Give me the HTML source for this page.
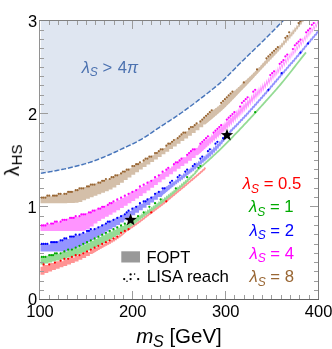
<!DOCTYPE html>
<html><head><meta charset="utf-8"><title>plot</title>
<style>html,body{margin:0;padding:0;background:#fff;}body{width:332px;height:349px;overflow:hidden;position:relative;font-family:"Liberation Sans",sans-serif;}</style>
</head><body>
<svg width="332" height="349" viewBox="0 0 332 349" style="position:absolute;left:0;top:0">
<defs><clipPath id="cp"><rect x="40.5" y="21" width="277.5" height="278"/></clipPath></defs>
<rect x="0" y="0" width="332" height="349" fill="#fff"/>
<g clip-path="url(#cp)">
<path d="M40.80,15.50 L40.80,173.31 L41.80,173.15 L42.80,172.98 L43.80,172.82 L44.80,172.65 L45.80,172.48 L46.80,172.31 L47.80,172.14 L48.80,171.97 L49.80,171.79 L50.80,171.61 L51.80,171.44 L52.80,171.26 L53.80,171.08 L54.80,170.90 L55.80,170.71 L56.80,170.53 L57.80,170.33 L58.80,170.14 L59.80,169.94 L60.80,169.74 L61.80,169.53 L62.80,169.32 L63.80,169.11 L64.80,168.89 L65.80,168.67 L66.80,168.45 L67.80,168.22 L68.80,167.99 L69.80,167.76 L70.80,167.52 L71.80,167.29 L72.80,167.04 L73.80,166.80 L74.80,166.55 L75.80,166.30 L76.80,166.05 L77.80,165.79 L78.80,165.53 L79.80,165.27 L80.80,165.00 L81.80,164.73 L82.80,164.45 L83.80,164.17 L84.80,163.88 L85.80,163.59 L86.80,163.30 L87.80,162.99 L88.80,162.68 L89.80,162.36 L90.80,162.04 L91.80,161.70 L92.80,161.36 L93.80,161.00 L94.80,160.64 L95.80,160.27 L96.80,159.89 L97.80,159.50 L98.80,159.11 L99.80,158.72 L100.80,158.32 L101.80,157.91 L102.80,157.51 L103.80,157.10 L104.80,156.68 L105.80,156.27 L106.80,155.84 L107.80,155.41 L108.80,154.97 L109.80,154.53 L110.80,154.08 L111.80,153.63 L112.80,153.17 L113.80,152.71 L114.80,152.24 L115.80,151.77 L116.80,151.31 L117.80,150.84 L118.80,150.36 L119.80,149.89 L120.80,149.42 L121.80,148.96 L122.80,148.49 L123.80,148.03 L124.80,147.57 L125.80,147.10 L126.80,146.64 L127.80,146.17 L128.80,145.70 L129.80,145.23 L130.80,144.75 L131.80,144.27 L132.80,143.78 L133.80,143.29 L134.80,142.79 L135.80,142.28 L136.80,141.77 L137.80,141.25 L138.80,140.71 L139.80,140.17 L140.80,139.61 L141.80,139.04 L142.80,138.46 L143.80,137.85 L144.80,137.23 L145.80,136.60 L146.80,135.95 L147.80,135.29 L148.80,134.62 L149.80,133.95 L150.80,133.27 L151.80,132.58 L152.80,131.90 L153.80,131.21 L154.80,130.52 L155.80,129.83 L156.80,129.15 L157.80,128.47 L158.80,127.80 L159.80,127.13 L160.80,126.47 L161.80,125.82 L162.80,125.17 L163.80,124.52 L164.80,123.88 L165.80,123.23 L166.80,122.58 L167.80,121.94 L168.80,121.29 L169.80,120.64 L170.80,119.99 L171.80,119.34 L172.80,118.68 L173.80,118.02 L174.80,117.36 L175.80,116.69 L176.80,116.01 L177.80,115.33 L178.80,114.64 L179.80,113.94 L180.80,113.24 L181.80,112.53 L182.80,111.82 L183.80,111.11 L184.80,110.39 L185.80,109.66 L186.80,108.93 L187.80,108.20 L188.80,107.47 L189.80,106.73 L190.80,105.98 L191.80,105.24 L192.80,104.49 L193.80,103.73 L194.80,102.98 L195.80,102.22 L196.80,101.45 L197.80,100.69 L198.80,99.92 L199.80,99.15 L200.80,98.38 L201.80,97.61 L202.80,96.85 L203.80,96.08 L204.80,95.31 L205.80,94.54 L206.80,93.76 L207.80,92.99 L208.80,92.21 L209.80,91.43 L210.80,90.64 L211.80,89.84 L212.80,89.05 L213.80,88.24 L214.80,87.43 L215.80,86.61 L216.80,85.78 L217.80,84.94 L218.80,84.10 L219.80,83.24 L220.80,82.37 L221.80,81.49 L222.80,80.60 L223.80,79.69 L224.80,78.76 L225.80,77.80 L226.80,76.83 L227.80,75.84 L228.80,74.84 L229.80,73.83 L230.80,72.81 L231.80,71.78 L232.80,70.75 L233.80,69.71 L234.80,68.68 L235.80,67.65 L236.80,66.62 L237.80,65.60 L238.80,64.60 L239.80,63.60 L240.80,62.61 L241.80,61.63 L242.80,60.65 L243.80,59.67 L244.80,58.70 L245.80,57.72 L246.80,56.75 L247.80,55.79 L248.80,54.82 L249.80,53.85 L250.80,52.88 L251.80,51.92 L252.80,50.95 L253.80,49.98 L254.80,49.01 L255.80,48.05 L256.80,47.07 L257.80,46.10 L258.80,45.13 L259.80,44.15 L260.80,43.17 L261.80,42.18 L262.80,41.19 L263.80,40.20 L264.80,39.21 L265.80,38.21 L266.80,37.22 L267.80,36.22 L268.80,35.22 L269.80,34.21 L270.80,33.21 L271.80,32.20 L272.80,31.20 L273.80,30.19 L274.80,29.17 L275.80,28.16 L276.80,27.14 L277.80,26.13 L278.80,25.11 L279.80,24.09 L280.80,23.06 L281.80,22.04 L282.80,21.01 L283.80,19.98 L284.80,18.95 L285.80,17.92 L286.80,16.88 L287.80,15.84 L288.80,14.80 L289.80,13.76 L290.80,12.71 L291.80,11.67 L292.80,10.62 L293.80,9.56 L294.80,8.51 L295.80,7.46 L296.80,6.40 L297.80,5.34 L298.80,4.28 L299.80,3.21 L300.00,15.50 Z" fill="rgb(223,230,241)"/>
<path d="M40.80,173.31 L41.80,173.15 L42.80,172.98 L43.80,172.82 L44.80,172.65 L45.80,172.48 L46.80,172.31 L47.80,172.14 L48.80,171.97 L49.80,171.79 L50.80,171.61 L51.80,171.44 L52.80,171.26 L53.80,171.08 L54.80,170.90 L55.80,170.71 L56.80,170.53 L57.80,170.33 L58.80,170.14 L59.80,169.94 L60.80,169.74 L61.80,169.53 L62.80,169.32 L63.80,169.11 L64.80,168.89 L65.80,168.67 L66.80,168.45 L67.80,168.22 L68.80,167.99 L69.80,167.76 L70.80,167.52 L71.80,167.29 L72.80,167.04 L73.80,166.80 L74.80,166.55 L75.80,166.30 L76.80,166.05 L77.80,165.79 L78.80,165.53 L79.80,165.27 L80.80,165.00 L81.80,164.73 L82.80,164.45 L83.80,164.17 L84.80,163.88 L85.80,163.59 L86.80,163.30 L87.80,162.99 L88.80,162.68 L89.80,162.36 L90.80,162.04 L91.80,161.70 L92.80,161.36 L93.80,161.00 L94.80,160.64 L95.80,160.27 L96.80,159.89 L97.80,159.50 L98.80,159.11 L99.80,158.72 L100.80,158.32 L101.80,157.91 L102.80,157.51 L103.80,157.10 L104.80,156.68 L105.80,156.27 L106.80,155.84 L107.80,155.41 L108.80,154.97 L109.80,154.53 L110.80,154.08 L111.80,153.63 L112.80,153.17 L113.80,152.71 L114.80,152.24 L115.80,151.77 L116.80,151.31 L117.80,150.84 L118.80,150.36 L119.80,149.89 L120.80,149.42 L121.80,148.96 L122.80,148.49 L123.80,148.03 L124.80,147.57 L125.80,147.10 L126.80,146.64 L127.80,146.17 L128.80,145.70 L129.80,145.23 L130.80,144.75 L131.80,144.27 L132.80,143.78 L133.80,143.29 L134.80,142.79 L135.80,142.28 L136.80,141.77 L137.80,141.25 L138.80,140.71 L139.80,140.17 L140.80,139.61 L141.80,139.04 L142.80,138.46 L143.80,137.85 L144.80,137.23 L145.80,136.60 L146.80,135.95 L147.80,135.29 L148.80,134.62 L149.80,133.95 L150.80,133.27 L151.80,132.58 L152.80,131.90 L153.80,131.21 L154.80,130.52 L155.80,129.83 L156.80,129.15 L157.80,128.47 L158.80,127.80 L159.80,127.13 L160.80,126.47 L161.80,125.82 L162.80,125.17 L163.80,124.52 L164.80,123.88 L165.80,123.23 L166.80,122.58 L167.80,121.94 L168.80,121.29 L169.80,120.64 L170.80,119.99 L171.80,119.34 L172.80,118.68 L173.80,118.02 L174.80,117.36 L175.80,116.69 L176.80,116.01 L177.80,115.33 L178.80,114.64 L179.80,113.94 L180.80,113.24 L181.80,112.53 L182.80,111.82 L183.80,111.11 L184.80,110.39 L185.80,109.66 L186.80,108.93 L187.80,108.20 L188.80,107.47 L189.80,106.73 L190.80,105.98 L191.80,105.24 L192.80,104.49 L193.80,103.73 L194.80,102.98 L195.80,102.22 L196.80,101.45 L197.80,100.69 L198.80,99.92 L199.80,99.15 L200.80,98.38 L201.80,97.61 L202.80,96.85 L203.80,96.08 L204.80,95.31 L205.80,94.54 L206.80,93.76 L207.80,92.99 L208.80,92.21 L209.80,91.43 L210.80,90.64 L211.80,89.84 L212.80,89.05 L213.80,88.24 L214.80,87.43 L215.80,86.61 L216.80,85.78 L217.80,84.94 L218.80,84.10 L219.80,83.24 L220.80,82.37 L221.80,81.49 L222.80,80.60 L223.80,79.69 L224.80,78.76 L225.80,77.80 L226.80,76.83 L227.80,75.84 L228.80,74.84 L229.80,73.83 L230.80,72.81 L231.80,71.78 L232.80,70.75 L233.80,69.71 L234.80,68.68 L235.80,67.65 L236.80,66.62 L237.80,65.60 L238.80,64.60 L239.80,63.60 L240.80,62.61 L241.80,61.63 L242.80,60.65 L243.80,59.67 L244.80,58.70 L245.80,57.72 L246.80,56.75 L247.80,55.79 L248.80,54.82 L249.80,53.85 L250.80,52.88 L251.80,51.92 L252.80,50.95 L253.80,49.98 L254.80,49.01 L255.80,48.05 L256.80,47.07 L257.80,46.10 L258.80,45.13 L259.80,44.15 L260.80,43.17 L261.80,42.18 L262.80,41.19 L263.80,40.20 L264.80,39.21 L265.80,38.21 L266.80,37.22 L267.80,36.22 L268.80,35.22 L269.80,34.21 L270.80,33.21 L271.80,32.20 L272.80,31.20 L273.80,30.19 L274.80,29.17 L275.80,28.16 L276.80,27.14 L277.80,26.13 L278.80,25.11 L279.80,24.09 L280.80,23.06 L281.80,22.04 L282.80,21.01 L283.80,19.98 L284.80,18.95 L285.80,17.92 L286.80,16.88 L287.80,15.84 L288.80,14.80 L289.80,13.76 L290.80,12.71 L291.80,11.67 L292.80,10.62 L293.80,9.56 L294.80,8.51 L295.80,7.46 L296.80,6.40 L297.80,5.34 L298.80,4.28 L299.80,3.21" fill="none" stroke="rgb(70,116,186)" stroke-width="1.45" stroke-dasharray="5 1.9"/>
<path d="M39.50,198.06 L42.64,198.06 L42.64,198.06 L44.53,198.06 L44.53,198.06 L46.42,198.06 L46.42,196.21 L48.31,196.21 L48.31,196.21 L50.20,196.21 L50.20,196.21 L52.09,196.21 L52.09,196.21 L53.98,196.21 L53.98,196.21 L55.87,196.21 L55.87,196.21 L57.76,196.21 L57.76,194.35 L59.65,194.35 L59.65,194.35 L61.53,194.35 L61.53,194.35 L63.42,194.35 L63.42,194.35 L65.31,194.35 L65.31,194.35 L67.20,194.35 L67.20,192.49 L69.09,192.49 L69.09,192.49 L70.98,192.49 L70.98,192.49 L72.87,192.49 L72.87,190.64 L74.76,190.64 L74.76,190.64 L76.65,190.64 L76.65,190.64 L78.54,190.64 L78.54,188.78 L80.42,188.78 L80.42,188.78 L82.31,188.78 L82.31,188.78 L84.20,188.78 L84.20,186.92 L86.09,186.92 L86.09,186.92 L87.98,186.92 L87.98,186.92 L89.87,186.92 L89.87,185.07 L91.76,185.07 L91.76,185.07 L93.65,185.07 L93.65,185.07 L95.54,185.07 L95.54,183.21 L97.43,183.21 L97.43,183.21 L99.31,183.21 L99.31,183.21 L101.20,183.21 L101.20,181.35 L103.09,181.35 L103.09,181.35 L104.98,181.35 L104.98,179.50 L106.87,179.50 L106.87,179.50 L108.76,179.50 L108.76,179.50 L110.65,179.50 L110.65,177.64 L112.54,177.64 L112.54,177.64 L114.43,177.64 L114.43,175.78 L116.32,175.78 L116.32,175.78 L118.20,175.78 L118.20,173.92 L120.09,173.92 L120.09,173.92 L121.98,173.92 L121.98,172.07 L123.87,172.07 L123.87,172.07 L125.76,172.07 L125.76,170.21 L127.65,170.21 L127.65,170.21 L129.54,170.21 L129.54,168.35 L131.43,168.35 L131.43,166.50 L133.32,166.50 L133.32,166.50 L135.21,166.50 L135.21,164.64 L137.09,164.64 L137.09,164.64 L138.98,164.64 L138.98,162.78 L140.87,162.78 L140.87,162.78 L142.76,162.78 L142.76,160.92 L144.65,160.92 L144.65,159.07 L146.54,159.07 L146.54,159.07 L148.43,159.07 L148.43,157.21 L150.32,157.21 L150.32,157.21 L152.21,157.21 L152.21,155.35 L154.10,155.35 L154.10,153.50 L155.98,153.50 L155.98,153.50 L157.87,153.50 L157.87,151.64 L159.76,151.64 L159.76,149.78 L161.65,149.78 L161.65,149.78 L163.54,149.78 L163.54,147.93 L165.43,147.93 L165.43,146.07 L167.32,146.07 L167.32,144.21 L169.21,144.21 L169.21,144.21 L171.10,144.21 L171.10,142.35 L172.99,142.35 L172.99,140.50 L174.87,140.50 L174.87,138.64 L176.76,138.64 L176.76,138.64 L178.65,138.64 L178.65,136.78 L180.54,136.78 L180.54,134.93 L182.43,134.93 L182.43,133.07 L184.32,133.07 L184.32,133.07 L186.21,133.07 L186.21,131.21 L188.10,131.21 L188.10,129.36 L189.99,129.36 L189.99,127.50 L191.88,127.50 L191.88,127.50 L193.76,127.50 L193.76,125.64 L195.65,125.64 L195.65,123.78 L197.54,123.78 L197.54,123.78 L199.43,123.78 L199.43,121.93 L201.32,121.93 L201.32,120.07 L203.21,120.07 L203.21,118.21 L205.10,118.21 L206.04,116.30 L206.99,115.51 L207.93,114.58 L208.88,113.91 L209.82,112.85 L210.77,112.32 L211.71,111.16 L212.65,110.80 L213.60,109.54 L214.54,109.35 L215.49,107.99 L216.43,107.94 L217.38,106.46 L218.32,106.51 L219.27,104.92 L220.21,104.93 L221.16,103.30 L222.10,103.27 L223.04,101.59 L223.99,101.51 L224.93,99.80 L225.88,99.69 L226.82,97.96 L227.77,97.83 L228.71,96.09 L229.66,95.96 L230.60,94.23 L231.54,94.10 L232.49,92.39 L233.43,92.27 L234.38,90.60 L235.32,90.48 L236.27,88.84 L237.21,88.69 L238.16,87.08 L239.10,86.91 L240.05,85.32 L240.99,85.13 L241.93,83.56 L242.88,83.34 L243.82,81.78 L244.77,81.54 L245.71,80.00 L246.66,79.75 L247.60,78.23 L248.55,77.96 L249.49,76.45 L250.43,76.15 L251.38,74.66 L252.32,74.39 L253.27,72.84 L254.21,72.61 L255.16,70.98 L256.10,70.79 L257.05,69.06 L257.99,68.90 L258.94,67.03 L259.88,66.91 L260.82,64.91 L261.77,64.87 L262.71,62.76 L263.66,62.83 L264.60,60.63 L265.55,60.85 L266.49,58.58 L267.44,58.95 L268.38,56.63 L269.32,57.11 L270.27,54.75 L271.21,55.31 L272.16,52.88 L273.10,53.49 L274.05,50.99 L274.99,51.65 L275.94,49.05 L276.88,49.74 L277.83,47.00 L278.77,47.73 L279.71,44.78 L280.66,45.60 L281.60,42.42 L282.55,43.41 L283.49,40.04 L284.44,41.25 L285.38,37.75 L286.33,39.16 L287.27,35.55 L288.21,37.11 L289.16,33.39 L290.10,35.04 L291.05,31.21 L291.99,32.88 L292.94,29.02 L293.88,30.65 L294.83,26.84 L295.77,28.40 L296.72,24.71 L297.66,26.16 L298.60,22.69 L299.55,23.98 L300.49,20.81 L301.44,21.76 L302.38,18.75 L303.33,19.46 L304.27,16.60 L305.22,17.12 L306.16,14.35 L307.10,14.72 L308.05,11.98 L308.99,12.23 L309.94,9.48 L310.88,9.66 L311.83,6.84 L312.77,7.00 L313.72,4.03 L314.66,4.22 L315.61,1.04 L316.55,1.34 L317.49,-2.15 L318.44,-1.67 L319.38,-5.54 L320.33,-4.81 L320.33,-1.04 L319.38,-1.82 L318.44,1.55 L317.49,1.09 L316.55,4.15 L315.61,3.92 L314.66,6.73 L313.72,6.66 L312.77,9.31 L311.83,9.33 L310.88,11.89 L309.94,11.94 L308.99,14.45 L308.05,14.48 L307.10,17.02 L306.16,16.96 L305.22,19.57 L304.27,19.39 L303.33,22.13 L302.38,21.79 L301.44,24.72 L300.49,24.17 L299.55,27.31 L298.60,26.47 L297.66,29.87 L296.72,28.80 L295.77,32.36 L294.83,31.12 L293.88,34.75 L292.94,33.39 L291.99,37.03 L291.05,35.62 L290.10,39.25 L289.16,37.85 L288.21,41.41 L287.27,40.10 L286.33,43.53 L285.38,42.34 L284.44,45.62 L283.49,44.60 L282.55,47.70 L281.60,46.87 L280.66,49.76 L279.71,49.12 L278.77,51.80 L277.83,51.29 L276.88,53.81 L275.94,53.39 L274.99,55.80 L274.05,55.45 L273.10,57.77 L272.16,57.48 L271.21,59.74 L270.27,59.51 L269.32,61.69 L268.38,61.54 L267.44,63.64 L266.49,63.58 L265.55,65.60 L264.60,65.65 L263.66,67.57 L262.71,67.74 L261.77,69.54 L260.82,69.84 L259.88,71.53 L258.94,71.94 L257.99,73.52 L257.05,74.02 L256.10,75.52 L255.16,76.09 L254.21,77.51 L253.27,78.15 L252.32,79.50 L251.38,80.21 L250.43,81.49 L249.49,82.24 L248.55,83.48 L247.60,84.21 L246.66,85.46 L245.71,86.16 L244.77,87.43 L243.82,88.11 L242.88,89.39 L241.93,90.05 L240.99,91.35 L240.05,91.99 L239.10,93.32 L238.16,93.95 L237.21,95.31 L236.27,95.92 L235.32,97.30 L234.38,97.88 L233.43,99.28 L232.49,99.84 L231.54,101.25 L230.60,101.79 L229.66,103.19 L228.71,103.71 L227.77,105.10 L226.82,105.59 L225.88,106.96 L224.93,107.43 L223.99,108.77 L223.04,109.20 L222.10,110.51 L221.16,110.91 L220.21,112.19 L219.27,112.56 L218.32,113.83 L217.38,114.17 L216.43,115.42 L215.49,115.85 L214.54,116.98 L213.60,117.53 L212.65,118.51 L211.71,119.19 L210.77,120.02 L209.82,120.83 L208.88,121.50 L207.93,122.44 L206.99,122.97 L206.04,124.03 L205.10,124.42 L203.21,124.42 L203.21,127.32 L201.32,127.32 L201.32,127.32 L199.43,127.32 L199.43,130.16 L197.54,130.16 L197.54,130.16 L195.65,130.16 L195.65,132.94 L193.76,132.94 L193.76,132.94 L191.88,132.94 L191.88,135.68 L189.99,135.68 L189.99,135.68 L188.10,135.68 L188.10,138.38 L186.21,138.38 L186.21,138.38 L184.32,138.38 L184.32,141.07 L182.43,141.07 L182.43,141.07 L180.54,141.07 L180.54,143.76 L178.65,143.76 L178.65,143.76 L176.76,143.76 L176.76,146.44 L174.87,146.44 L174.87,146.44 L172.99,146.44 L172.99,149.10 L171.10,149.10 L171.10,149.10 L169.21,149.10 L169.21,151.74 L167.32,151.74 L167.32,151.74 L165.43,151.74 L165.43,154.37 L163.54,154.37 L163.54,154.37 L161.65,154.37 L161.65,156.96 L159.76,156.96 L159.76,156.96 L157.87,156.96 L157.87,159.52 L155.98,159.52 L155.98,159.52 L154.10,159.52 L154.10,162.05 L152.21,162.05 L152.21,162.05 L150.32,162.05 L150.32,164.57 L148.43,164.57 L148.43,164.57 L146.54,164.57 L146.54,167.08 L144.65,167.08 L144.65,167.08 L142.76,167.08 L142.76,169.61 L140.87,169.61 L140.87,169.61 L138.98,169.61 L138.98,172.19 L137.09,172.19 L137.09,172.19 L135.21,172.19 L135.21,174.82 L133.32,174.82 L133.32,174.82 L131.43,174.82 L131.43,177.47 L129.54,177.47 L129.54,177.47 L127.65,177.47 L127.65,180.09 L125.76,180.09 L125.76,180.09 L123.87,180.09 L123.87,182.64 L121.98,182.64 L121.98,182.64 L120.09,182.64 L120.09,185.07 L118.20,185.07 L118.20,185.07 L116.32,185.07 L116.32,187.43 L114.43,187.43 L114.43,187.43 L112.54,187.43 L112.54,189.58 L110.65,189.58 L110.65,189.58 L108.76,189.58 L108.76,191.30 L106.87,191.30 L106.87,191.30 L104.98,191.30 L104.98,192.79 L103.09,192.79 L103.09,192.79 L101.20,192.79 L101.20,194.28 L99.31,194.28 L99.31,194.28 L97.43,194.28 L97.43,195.77 L95.54,195.77 L95.54,195.77 L93.65,195.77 L93.65,197.24 L91.76,197.24 L91.76,197.24 L89.87,197.24 L89.87,198.72 L87.98,198.72 L87.98,198.72 L86.09,198.72 L86.09,200.26 L84.20,200.26 L84.20,200.26 L82.31,200.26 L82.31,201.88 L80.42,201.88 L80.42,201.88 L78.54,201.88 L78.54,202.73 L76.65,202.73 L76.65,202.73 L74.76,202.73 L74.76,203.02 L72.87,203.02 L72.87,203.02 L70.98,203.02 L70.98,203.09 L69.09,203.09 L69.09,203.09 L67.20,203.09 L67.20,203.15 L65.31,203.15 L65.31,203.15 L63.42,203.15 L63.42,203.20 L61.53,203.20 L61.53,203.20 L59.65,203.20 L59.65,203.23 L57.76,203.23 L57.76,203.23 L55.87,203.23 L55.87,203.26 L53.98,203.26 L53.98,203.26 L52.09,203.26 L52.09,203.28 L50.20,203.28 L50.20,203.28 L48.31,203.28 L48.31,203.29 L46.42,203.29 L46.42,203.29 L44.53,203.29 L44.53,203.30 L42.64,203.30 L42.64,203.30 L39.50,203.30 Z" fill="rgb(212,191,169)"/>
<path d="M39.50,225.92 L42.64,225.92 L42.64,225.92 L44.53,225.92 L44.53,225.92 L46.42,225.92 L46.42,224.06 L48.31,224.06 L48.31,224.06 L50.20,224.06 L50.20,224.06 L52.09,224.06 L52.09,224.06 L53.98,224.06 L53.98,222.21 L55.87,222.21 L55.87,222.21 L57.76,222.21 L57.76,222.21 L59.65,222.21 L59.65,222.21 L61.53,222.21 L61.53,220.35 L63.42,220.35 L63.42,220.35 L65.31,220.35 L65.31,220.35 L67.20,220.35 L67.20,218.49 L69.09,218.49 L69.09,218.49 L70.98,218.49 L70.98,218.49 L72.87,218.49 L72.87,218.49 L74.76,218.49 L74.76,216.63 L76.65,216.63 L76.65,216.63 L78.54,216.63 L78.54,216.63 L80.42,216.63 L80.42,214.78 L82.31,214.78 L82.31,214.78 L84.20,214.78 L84.20,214.78 L86.09,214.78 L86.09,212.92 L87.98,212.92 L87.98,212.92 L89.87,212.92 L89.87,212.92 L91.76,212.92 L91.76,211.06 L93.65,211.06 L93.65,211.06 L95.54,211.06 L95.54,209.21 L97.43,209.21 L97.43,209.21 L99.31,209.21 L99.31,209.21 L101.20,209.21 L101.20,207.35 L103.09,207.35 L103.09,207.35 L104.98,207.35 L104.98,205.49 L106.87,205.49 L106.87,205.49 L108.76,205.49 L108.76,203.64 L110.65,203.64 L110.65,203.64 L112.54,203.64 L112.54,201.78 L114.43,201.78 L114.43,201.78 L116.32,201.78 L116.32,199.92 L118.20,199.92 L118.20,199.92 L120.09,199.92 L120.09,198.06 L121.98,198.06 L121.98,198.06 L123.87,198.06 L123.87,196.21 L125.76,196.21 L125.76,196.21 L127.65,196.21 L127.65,194.35 L129.54,194.35 L129.54,192.49 L131.43,192.49 L131.43,192.49 L133.32,192.49 L133.32,190.64 L135.21,190.64 L135.21,190.64 L137.09,190.64 L137.09,188.78 L138.98,188.78 L138.98,186.92 L140.87,186.92 L140.87,186.92 L142.76,186.92 L142.76,185.07 L144.65,185.07 L144.65,185.07 L146.54,185.07 L146.54,183.21 L148.43,183.21 L148.43,181.35 L150.32,181.35 L150.32,181.35 L152.21,181.35 L152.21,179.50 L154.10,179.50 L154.10,177.64 L155.98,177.64 L155.98,177.64 L157.87,177.64 L157.87,175.78 L159.76,175.78 L159.76,173.92 L161.65,173.92 L161.65,172.07 L163.54,172.07 L163.54,172.07 L165.43,172.07 L165.43,170.21 L167.32,170.21 L167.32,168.35 L169.21,168.35 L169.21,168.35 L171.10,168.35 L171.10,166.50 L172.99,166.50 L172.99,164.64 L174.87,164.64 L174.87,162.78 L176.76,162.78 L176.76,162.78 L178.65,162.78 L178.65,160.92 L180.54,160.92 L180.54,159.07 L182.43,159.07 L182.43,157.21 L184.32,157.21 L184.32,157.21 L186.21,157.21 L186.21,155.35 L188.10,155.35 L188.10,153.50 L189.99,153.50 L189.99,151.64 L191.88,151.64 L191.88,149.78 L193.76,149.78 L193.76,149.78 L195.65,149.78 L195.65,147.93 L197.54,147.93 L198.49,145.59 L199.43,144.91 L200.38,143.99 L201.32,143.72 L202.27,142.36 L203.21,142.52 L204.15,140.69 L205.10,141.32 L206.04,139.01 L206.99,140.10 L207.93,137.29 L208.88,138.88 L209.82,135.56 L210.77,137.66 L211.71,133.81 L212.65,136.00 L213.60,132.03 L214.54,134.26 L215.49,130.22 L216.43,132.52 L217.38,128.39 L218.32,130.82 L219.27,126.55 L220.21,129.12 L221.16,124.69 L222.10,127.40 L223.04,122.84 L223.99,125.68 L224.93,120.98 L225.88,123.94 L226.82,119.12 L227.77,122.19 L228.71,117.25 L229.66,120.43 L230.60,115.37 L231.54,118.65 L232.49,113.49 L233.43,116.86 L234.38,111.60 L235.32,115.05 L236.27,109.70 L237.21,113.24 L238.16,107.79 L239.10,111.41 L240.05,105.88 L240.99,109.58 L241.93,103.97 L242.88,107.73 L243.82,102.04 L244.77,105.87 L245.71,100.11 L246.66,104.00 L247.60,98.16 L248.55,102.11 L249.49,96.21 L250.43,100.20 L251.38,94.25 L252.32,98.28 L253.27,92.30 L254.21,96.36 L255.16,90.34 L256.10,94.43 L257.05,88.39 L257.99,92.49 L258.94,86.44 L259.88,90.55 L260.82,84.51 L261.77,88.62 L262.71,82.59 L263.66,86.68 L264.60,80.67 L265.55,84.73 L266.49,78.73 L267.44,82.75 L268.38,76.76 L269.32,80.75 L270.27,74.74 L271.21,78.71 L272.16,72.67 L273.10,76.64 L274.05,70.56 L274.99,74.55 L275.94,68.42 L276.88,72.44 L277.83,66.24 L278.77,70.31 L279.71,64.05 L280.66,68.17 L281.60,61.84 L282.55,66.01 L283.49,59.62 L284.44,63.84 L285.38,57.40 L286.33,61.64 L287.27,55.18 L288.21,59.37 L289.16,52.95 L290.10,57.09 L291.05,50.70 L291.99,54.80 L292.94,48.45 L293.88,52.51 L294.83,46.20 L295.77,50.22 L296.72,43.96 L297.66,47.94 L298.60,41.73 L299.55,45.67 L300.49,39.49 L301.44,43.40 L302.38,37.24 L303.33,41.13 L304.27,34.97 L305.22,38.84 L306.16,32.66 L307.10,36.54 L308.05,30.32 L308.99,34.24 L309.94,28.03 L310.88,31.98 L311.83,25.88 L312.77,29.80 L313.72,23.86 L314.66,27.65 L315.61,21.84 L316.55,25.49 L317.49,19.71 L318.44,23.30 L319.38,17.52 L320.33,21.11 L320.33,24.25 L319.38,20.80 L318.44,26.42 L317.49,22.99 L316.55,28.62 L315.61,25.16 L314.66,30.85 L313.72,27.26 L312.77,33.09 L311.83,29.37 L310.88,35.35 L309.94,31.57 L308.99,37.62 L308.05,33.86 L307.10,39.90 L306.16,36.17 L305.22,42.19 L304.27,38.48 L303.33,44.48 L302.38,40.75 L301.44,46.76 L300.49,43.01 L299.55,49.05 L298.60,45.27 L297.66,51.34 L296.72,47.53 L295.77,53.64 L294.83,49.80 L293.88,55.96 L292.94,52.08 L291.99,58.28 L291.05,54.36 L290.10,60.60 L289.16,56.63 L288.21,62.91 L287.27,58.89 L286.33,65.21 L285.38,61.14 L284.44,67.49 L283.49,63.44 L282.55,69.75 L281.60,65.75 L280.66,71.99 L279.71,68.04 L278.77,74.22 L277.83,70.33 L276.88,76.43 L275.94,72.59 L274.99,78.64 L274.05,74.84 L273.10,80.83 L272.16,77.07 L271.21,83.02 L270.27,79.26 L269.32,85.19 L268.38,81.43 L267.44,87.35 L266.49,83.57 L265.55,89.50 L264.60,85.69 L263.66,91.64 L262.71,87.80 L261.77,93.76 L260.82,89.90 L259.88,95.88 L258.94,92.01 L257.99,97.99 L257.05,94.13 L256.10,100.09 L255.16,96.25 L254.21,102.18 L253.27,98.37 L252.32,104.26 L251.38,100.48 L250.43,106.33 L249.49,102.58 L248.55,108.37 L247.60,104.68 L246.66,110.40 L245.71,106.76 L244.77,112.41 L243.82,108.82 L242.88,114.39 L241.93,110.87 L240.99,116.34 L240.05,112.90 L239.10,118.29 L238.16,114.92 L237.21,120.22 L236.27,116.94 L235.32,122.14 L234.38,118.94 L233.43,124.04 L232.49,120.92 L231.54,125.92 L230.60,122.89 L229.66,127.78 L228.71,124.85 L227.77,129.61 L226.82,126.78 L225.88,131.41 L224.93,128.68 L223.99,133.18 L223.04,130.56 L222.10,134.91 L221.16,132.42 L220.21,136.61 L219.27,134.25 L218.32,138.29 L217.38,136.06 L216.43,139.94 L215.49,137.85 L214.54,141.56 L213.60,139.55 L212.65,143.17 L211.71,141.19 L210.77,144.75 L209.82,142.86 L208.88,146.30 L207.93,144.95 L206.99,147.84 L206.04,146.99 L205.10,149.36 L204.15,149.00 L203.21,150.85 L202.27,150.97 L201.32,152.33 L200.38,152.89 L199.43,153.78 L198.49,154.78 L197.54,155.20 L195.65,155.20 L195.65,157.98 L193.76,157.98 L193.76,157.98 L191.88,157.98 L191.88,160.70 L189.99,160.70 L189.99,160.70 L188.10,160.70 L188.10,163.38 L186.21,163.38 L186.21,163.38 L184.32,163.38 L184.32,166.06 L182.43,166.06 L182.43,166.06 L180.54,166.06 L180.54,168.77 L178.65,168.77 L178.65,168.77 L176.76,168.77 L176.76,171.46 L174.87,171.46 L174.87,171.46 L172.99,171.46 L172.99,174.13 L171.10,174.13 L171.10,174.13 L169.21,174.13 L169.21,176.80 L167.32,176.80 L167.32,176.80 L165.43,176.80 L165.43,179.47 L163.54,179.47 L163.54,179.47 L161.65,179.47 L161.65,182.17 L159.76,182.17 L159.76,182.17 L157.87,182.17 L157.87,184.92 L155.98,184.92 L155.98,184.92 L154.10,184.92 L154.10,187.72 L152.21,187.72 L152.21,187.72 L150.32,187.72 L150.32,190.51 L148.43,190.51 L148.43,190.51 L146.54,190.51 L146.54,193.26 L144.65,193.26 L144.65,193.26 L142.76,193.26 L142.76,195.91 L140.87,195.91 L140.87,195.91 L138.98,195.91 L138.98,198.44 L137.09,198.44 L137.09,198.44 L135.21,198.44 L135.21,200.92 L133.32,200.92 L133.32,200.92 L131.43,200.92 L131.43,203.33 L129.54,203.33 L129.54,203.33 L127.65,203.33 L127.65,205.69 L125.76,205.69 L125.76,205.69 L123.87,205.69 L123.87,208.00 L121.98,208.00 L121.98,208.00 L120.09,208.00 L120.09,210.28 L118.20,210.28 L118.20,210.28 L116.32,210.28 L116.32,212.49 L114.43,212.49 L114.43,212.49 L112.54,212.49 L112.54,214.64 L110.65,214.64 L110.65,214.64 L108.76,214.64 L108.76,216.75 L106.87,216.75 L106.87,216.75 L104.98,216.75 L104.98,218.86 L103.09,218.86 L103.09,218.86 L101.20,218.86 L101.20,221.00 L99.31,221.00 L99.31,221.00 L97.43,221.00 L97.43,223.60 L95.54,223.60 L95.54,223.60 L93.65,223.60 L93.65,226.44 L91.76,226.44 L91.76,226.44 L89.87,226.44 L89.87,228.97 L87.98,228.97 L87.98,228.97 L86.09,228.97 L86.09,230.64 L84.20,230.64 L84.20,230.64 L82.31,230.64 L82.31,231.00 L80.42,231.00 L80.42,231.00 L78.54,231.00 L78.54,231.00 L76.65,231.00 L76.65,231.00 L74.76,231.00 L74.76,231.00 L72.87,231.00 L72.87,231.00 L70.98,231.00 L70.98,231.00 L69.09,231.00 L69.09,231.00 L67.20,231.00 L67.20,231.00 L65.31,231.00 L65.31,231.00 L63.42,231.00 L63.42,231.00 L61.53,231.00 L61.53,231.00 L59.65,231.00 L59.65,231.00 L57.76,231.00 L57.76,231.00 L55.87,231.00 L55.87,231.00 L53.98,231.00 L53.98,231.00 L52.09,231.00 L52.09,231.00 L50.20,231.00 L50.20,231.00 L48.31,231.00 L48.31,231.00 L46.42,231.00 L46.42,231.00 L44.53,231.00 L44.53,231.00 L42.64,231.00 L42.64,231.00 L39.50,231.00 Z" fill="rgb(255,148,255)"/>
<path d="M39.50,244.49 L42.64,244.49 L42.64,244.49 L44.53,244.49 L44.53,244.49 L46.42,244.49 L46.42,244.49 L48.31,244.49 L48.31,244.49 L50.20,244.49 L50.20,242.63 L52.09,242.63 L52.09,242.63 L53.98,242.63 L53.98,242.63 L55.87,242.63 L55.87,242.63 L57.76,242.63 L57.76,240.78 L59.65,240.78 L59.65,240.78 L61.53,240.78 L61.53,240.78 L63.42,240.78 L63.42,238.92 L65.31,238.92 L65.31,238.92 L67.20,238.92 L67.20,238.92 L69.09,238.92 L69.09,237.06 L70.98,237.06 L70.98,237.06 L72.87,237.06 L72.87,237.06 L74.76,237.06 L74.76,235.20 L76.65,235.20 L76.65,235.20 L78.54,235.20 L78.54,235.20 L80.42,235.20 L80.42,233.35 L82.31,233.35 L82.31,233.35 L84.20,233.35 L84.20,233.35 L86.09,233.35 L86.09,231.49 L87.98,231.49 L87.98,231.49 L89.87,231.49 L89.87,229.63 L91.76,229.63 L91.76,229.63 L93.65,229.63 L93.65,229.63 L95.54,229.63 L95.54,227.78 L97.43,227.78 L97.43,227.78 L99.31,227.78 L99.31,225.92 L101.20,225.92 L101.20,225.92 L103.09,225.92 L103.09,224.06 L104.98,224.06 L104.98,224.06 L106.87,224.06 L106.87,222.21 L108.76,222.21 L108.76,222.21 L110.65,222.21 L110.65,220.35 L112.54,220.35 L112.54,220.35 L114.43,220.35 L114.43,218.49 L116.32,218.49 L116.32,218.49 L118.20,218.49 L118.20,216.63 L120.09,216.63 L120.09,216.63 L121.98,216.63 L121.98,214.78 L123.87,214.78 L123.87,214.78 L125.76,214.78 L125.76,212.92 L127.65,212.92 L127.65,211.06 L129.54,211.06 L129.54,211.06 L131.43,211.06 L131.43,209.21 L133.32,209.21 L133.32,207.35 L135.21,207.35 L135.21,207.35 L137.09,207.35 L137.09,205.49 L138.98,205.49 L138.98,203.64 L140.87,203.64 L140.87,203.64 L142.76,203.64 L142.76,201.78 L144.65,201.78 L144.65,201.78 L146.54,201.78 L146.54,199.92 L148.43,199.92 L148.43,198.06 L150.32,198.06 L150.32,198.06 L152.21,198.06 L152.21,196.21 L154.10,196.21 L154.10,194.35 L155.98,194.35 L155.98,192.49 L157.87,192.49 L157.87,192.49 L159.76,192.49 L159.76,190.64 L161.65,190.64 L162.60,189.04 L163.54,188.44 L164.49,187.65 L165.43,187.35 L166.37,186.25 L167.32,186.25 L168.26,184.83 L169.21,185.13 L170.15,183.39 L171.10,184.00 L172.04,181.94 L172.99,182.86 L173.93,180.48 L174.87,181.72 L175.82,179.00 L176.76,180.26 L177.71,177.51 L178.65,178.79 L179.60,176.02 L180.54,177.31 L181.49,174.51 L182.43,175.82 L183.38,173.00 L184.32,174.33 L185.26,171.48 L186.21,172.82 L187.15,169.96 L188.10,171.31 L189.04,168.41 L189.99,169.79 L190.93,166.86 L191.88,168.25 L192.82,165.29 L193.76,166.70 L194.71,163.70 L195.65,165.13 L196.60,162.10 L197.54,163.54 L198.49,160.48 L199.43,161.93 L200.38,158.83 L201.32,160.30 L202.27,157.16 L203.21,158.64 L204.15,155.46 L205.10,156.95 L206.04,153.71 L206.99,155.23 L207.93,151.93 L208.88,153.48 L209.82,150.14 L210.77,151.71 L211.71,148.34 L212.65,149.91 L213.60,146.54 L214.54,148.08 L215.49,144.72 L216.43,146.19 L217.38,142.89 L218.32,144.26 L219.27,141.08 L220.21,142.31 L221.16,139.30 L222.10,140.36 L223.04,137.57 L223.99,138.43 L224.93,135.86 L225.88,136.50 L226.82,134.16 L227.77,134.55 L228.71,132.43 L229.66,132.56 L230.60,130.66 L231.54,130.51 L231.54,132.13 L230.60,132.81 L229.66,134.70 L228.71,135.10 L227.77,137.21 L226.82,137.34 L225.88,139.66 L224.93,139.53 L223.99,142.07 L223.04,141.72 L222.10,144.47 L221.16,143.90 L220.21,146.83 L219.27,146.04 L218.32,149.10 L217.38,148.13 L216.43,151.26 L215.49,150.14 L214.54,153.27 L213.60,152.04 L212.65,155.16 L211.71,153.87 L210.77,156.95 L209.82,155.63 L208.88,158.67 L207.93,157.36 L206.99,160.34 L206.04,159.04 L205.10,161.96 L204.15,160.70 L203.21,163.57 L202.27,162.34 L201.32,165.18 L200.38,163.96 L199.43,166.76 L198.49,165.56 L197.54,168.32 L196.60,167.13 L195.65,169.86 L194.71,168.68 L193.76,171.38 L192.82,170.21 L191.88,172.87 L190.93,171.73 L189.99,174.36 L189.04,173.23 L188.10,175.83 L187.15,174.72 L186.21,177.29 L185.26,176.20 L184.32,178.75 L183.38,177.68 L182.43,180.20 L181.49,179.15 L180.54,181.65 L179.60,180.61 L178.65,183.10 L177.71,182.07 L176.76,184.53 L175.82,183.52 L174.87,185.96 L173.93,184.97 L172.99,187.38 L172.04,186.73 L171.10,188.79 L170.15,188.48 L169.21,190.19 L168.26,190.21 L167.32,191.58 L166.37,191.93 L165.43,192.97 L164.49,193.63 L163.54,194.34 L162.60,195.33 L161.65,197.07 L159.76,197.07 L159.76,197.07 L157.87,197.07 L157.87,199.77 L155.98,199.77 L155.98,199.77 L154.10,199.77 L154.10,202.43 L152.21,202.43 L152.21,202.43 L150.32,202.43 L150.32,205.06 L148.43,205.06 L148.43,205.06 L146.54,205.06 L146.54,207.66 L144.65,207.66 L144.65,207.66 L142.76,207.66 L142.76,210.21 L140.87,210.21 L140.87,210.21 L138.98,210.21 L138.98,212.74 L137.09,212.74 L137.09,212.74 L135.21,212.74 L135.21,215.25 L133.32,215.25 L133.32,215.25 L131.43,215.25 L131.43,217.73 L129.54,217.73 L129.54,217.73 L127.65,217.73 L127.65,220.16 L125.76,220.16 L125.76,220.16 L123.87,220.16 L123.87,222.55 L121.98,222.55 L121.98,222.55 L120.09,222.55 L120.09,224.88 L118.20,224.88 L118.20,224.88 L116.32,224.88 L116.32,227.14 L114.43,227.14 L114.43,227.14 L112.54,227.14 L112.54,229.35 L110.65,229.35 L110.65,229.35 L108.76,229.35 L108.76,231.51 L106.87,231.51 L106.87,231.51 L104.98,231.51 L104.98,233.64 L103.09,233.64 L103.09,233.64 L101.20,233.64 L101.20,235.73 L99.31,235.73 L99.31,235.73 L97.43,235.73 L97.43,237.81 L95.54,237.81 L95.54,237.81 L93.65,237.81 L93.65,239.92 L91.76,239.92 L91.76,239.92 L89.87,239.92 L89.87,242.03 L87.98,242.03 L87.98,242.03 L86.09,242.03 L86.09,244.07 L84.20,244.07 L84.20,244.07 L82.31,244.07 L82.31,245.99 L80.42,245.99 L80.42,245.99 L78.54,245.99 L78.54,247.73 L76.65,247.73 L76.65,247.73 L74.76,247.73 L74.76,249.45 L72.87,249.45 L72.87,249.45 L70.98,249.45 L70.98,251.06 L69.09,251.06 L69.09,251.06 L67.20,251.06 L67.20,251.60 L65.31,251.60 L65.31,251.60 L63.42,251.60 L63.42,251.60 L61.53,251.60 L61.53,251.60 L59.65,251.60 L59.65,251.60 L57.76,251.60 L57.76,251.60 L55.87,251.60 L55.87,251.60 L53.98,251.60 L53.98,251.60 L52.09,251.60 L52.09,251.60 L50.20,251.60 L50.20,251.60 L48.31,251.60 L48.31,251.60 L46.42,251.60 L46.42,251.60 L44.53,251.60 L44.53,251.60 L42.64,251.60 L42.64,251.60 L39.50,251.60 Z" fill="rgb(148,148,255)"/>
<path d="M229.00,132.11 L230.00,132.28 L231.00,130.23 L232.00,130.36 L233.00,128.27 L234.00,128.37 L235.00,126.26 L236.00,126.34 L237.00,124.21 L238.00,124.27 L239.00,122.12 L240.00,122.17 L241.00,120.01 L242.00,120.05 L243.00,117.89 L244.00,117.92 L245.00,115.74 L246.00,115.76 L247.00,113.58 L248.00,113.59 L249.00,111.39 L250.00,111.39 L251.00,109.19 L252.00,109.19 L253.00,106.98 L254.00,106.96 L255.00,104.74 L256.00,104.72 L257.00,102.50 L258.00,102.48 L259.00,100.25 L260.00,100.22 L261.00,97.98 L262.00,97.95 L263.00,95.71 L264.00,95.66 L265.00,93.41 L266.00,93.36 L267.00,91.09 L268.00,91.03 L269.00,88.76 L270.00,88.68 L271.00,86.41 L272.00,86.33 L273.00,84.05 L274.00,83.98 L275.00,81.70 L276.00,81.62 L277.00,79.34 L278.00,79.27 L279.00,77.00 L280.00,76.93 L281.00,74.67 L282.00,74.61 L283.00,72.35 L284.00,72.30 L285.00,70.05 L286.00,70.00 L287.00,67.75 L288.00,67.70 L289.00,65.45 L290.00,65.40 L291.00,63.15 L292.00,63.09 L293.00,60.84 L294.00,60.77 L295.00,58.51 L296.00,58.44 L297.00,56.16 L298.00,56.08 L299.00,53.79 L300.00,53.69 L301.00,51.39 L302.00,51.29 L303.00,48.99 L304.00,48.89 L305.00,46.58 L306.00,46.48 L307.00,44.19 L308.00,44.10 L309.00,41.81 L310.00,41.73 L311.00,39.45 L312.00,39.38 L313.00,37.10 L314.00,37.02 L315.00,34.73 L316.00,34.64 L317.00,32.34 L318.00,32.23 L319.00,29.90 L320.50,29.15" fill="none" stroke="rgb(148,148,255)" stroke-width="1.8" stroke-linecap="butt"/>
<path d="M39.50,257.49 L42.64,257.49 L42.64,257.49 L44.53,257.49 L44.53,257.49 L46.42,257.49 L46.42,255.63 L48.31,255.63 L48.31,255.63 L50.20,255.63 L50.20,255.63 L52.09,255.63 L52.09,255.63 L53.98,255.63 L53.98,253.77 L55.87,253.77 L55.87,253.77 L57.76,253.77 L57.76,253.77 L59.65,253.77 L59.65,253.77 L61.53,253.77 L61.53,251.92 L63.42,251.92 L63.42,251.92 L65.31,251.92 L65.31,251.92 L67.20,251.92 L67.20,250.06 L69.09,250.06 L69.09,250.06 L70.98,250.06 L70.98,250.06 L72.87,250.06 L72.87,248.20 L74.76,248.20 L74.76,248.20 L76.65,248.20 L76.65,248.20 L78.54,248.20 L78.54,246.35 L80.42,246.35 L80.42,246.35 L82.31,246.35 L82.31,244.49 L84.20,244.49 L84.20,244.49 L86.09,244.49 L86.09,242.63 L87.98,242.63 L87.98,242.63 L89.87,242.63 L89.87,240.78 L91.76,240.78 L91.76,240.78 L93.65,240.78 L93.65,238.92 L95.54,238.92 L95.54,238.92 L97.43,238.92 L97.43,237.06 L99.31,237.06 L99.31,237.06 L101.20,237.06 L101.20,235.20 L103.09,235.20 L103.09,235.20 L104.98,235.20 L104.98,233.35 L106.87,233.35 L106.87,233.35 L108.76,233.35 L108.76,231.49 L110.65,231.49 L110.65,231.49 L112.54,231.49 L112.54,229.63 L114.43,229.63 L114.43,229.63 L116.32,229.63 L116.32,227.78 L118.20,227.78 L118.20,227.78 L120.09,227.78 L120.09,225.92 L121.98,225.92 L121.98,225.92 L123.87,225.92 L123.87,224.06 L125.76,224.06 L125.76,224.06 L127.65,224.06 L128.59,221.66 L129.54,221.17 L130.48,220.46 L131.43,220.30 L132.37,219.23 L133.32,219.41 L134.26,218.00 L135.21,218.52 L136.15,216.75 L137.09,217.61 L138.04,215.50 L138.98,216.70 L139.93,214.25 L140.87,215.78 L141.82,212.98 L142.76,214.52 L143.71,211.70 L144.65,213.22 L145.60,210.39 L146.54,211.91 L147.48,209.07 L148.43,210.59 L149.37,207.74 L150.32,209.25 L151.26,206.39 L152.21,207.90 L153.15,205.02 L154.10,206.53 L155.04,203.65 L155.98,205.15 L156.93,202.26 L157.87,203.76 L158.82,200.87 L159.76,202.35 L160.71,199.48 L161.65,200.94 L162.60,198.07 L163.54,199.51 L164.49,196.65 L165.43,198.06 L166.37,195.21 L167.32,196.60 L168.26,193.77 L169.21,195.11 L170.15,192.30 L171.10,193.61 L172.04,190.82 L172.99,192.08 L173.93,189.32 L174.87,190.53 L175.82,187.80 L176.76,188.95 L177.71,186.24 L178.65,187.33 L179.60,184.66 L180.54,185.69 L181.49,183.05 L182.43,184.02 L183.38,181.44 L184.32,182.35 L185.26,179.83 L186.21,180.66 L187.15,178.23 L188.10,178.98 L189.04,176.65 L189.99,177.29 L190.93,175.08 L191.88,175.58 L192.82,173.50 L193.76,173.86 L194.71,171.92 L195.65,172.10 L196.60,170.33 L197.54,170.32 L197.54,172.03 L196.60,172.49 L195.65,174.18 L194.71,174.45 L193.76,176.28 L192.82,176.37 L191.88,178.33 L190.93,178.24 L189.99,180.31 L189.04,180.07 L188.10,182.24 L187.15,181.88 L186.21,184.13 L185.26,183.66 L184.32,185.98 L183.38,185.42 L182.43,187.80 L181.49,187.16 L180.54,189.58 L179.60,188.87 L178.65,191.33 L177.71,190.56 L176.76,193.04 L175.82,192.20 L174.87,194.71 L173.93,193.82 L172.99,196.35 L172.04,195.40 L171.10,197.95 L170.15,196.95 L169.21,199.52 L168.26,198.48 L167.32,201.07 L166.37,199.98 L165.43,202.58 L164.49,201.46 L163.54,204.07 L162.60,202.92 L161.65,205.54 L160.71,204.36 L159.76,206.98 L158.82,205.78 L157.87,208.40 L156.93,207.19 L155.98,209.81 L155.04,208.58 L154.10,211.19 L153.15,209.95 L152.21,212.55 L151.26,211.31 L150.32,213.90 L149.37,212.65 L148.43,215.23 L147.48,213.98 L146.54,216.54 L145.60,215.29 L144.65,217.84 L143.71,216.59 L142.76,219.13 L141.82,217.87 L140.87,220.41 L139.93,219.16 L138.98,221.68 L138.04,220.78 L137.09,222.94 L136.15,222.40 L135.21,224.20 L134.26,224.02 L133.32,225.44 L132.37,225.62 L131.43,226.68 L130.48,227.21 L129.54,227.90 L128.59,228.79 L127.65,230.30 L125.76,230.30 L125.76,230.30 L123.87,230.30 L123.87,232.63 L121.98,232.63 L121.98,232.63 L120.09,232.63 L120.09,234.88 L118.20,234.88 L118.20,234.88 L116.32,234.88 L116.32,237.06 L114.43,237.06 L114.43,237.06 L112.54,237.06 L112.54,239.19 L110.65,239.19 L110.65,239.19 L108.76,239.19 L108.76,241.25 L106.87,241.25 L106.87,241.25 L104.98,241.25 L104.98,243.25 L103.09,243.25 L103.09,243.25 L101.20,243.25 L101.20,245.17 L99.31,245.17 L99.31,245.17 L97.43,245.17 L97.43,247.01 L95.54,247.01 L95.54,247.01 L93.65,247.01 L93.65,248.83 L91.76,248.83 L91.76,248.83 L89.87,248.83 L89.87,250.60 L87.98,250.60 L87.98,250.60 L86.09,250.60 L86.09,252.29 L84.20,252.29 L84.20,252.29 L82.31,252.29 L82.31,253.85 L80.42,253.85 L80.42,253.85 L78.54,253.85 L78.54,255.25 L76.65,255.25 L76.65,255.25 L74.76,255.25 L74.76,256.47 L72.87,256.47 L72.87,256.47 L70.98,256.47 L70.98,257.57 L69.09,257.57 L69.09,257.57 L67.20,257.57 L67.20,258.59 L65.31,258.59 L65.31,258.59 L63.42,258.59 L63.42,259.57 L61.53,259.57 L61.53,259.57 L59.65,259.57 L59.65,260.57 L57.76,260.57 L57.76,260.57 L55.87,260.57 L55.87,261.57 L53.98,261.57 L53.98,261.57 L52.09,261.57 L52.09,262.55 L50.20,262.55 L50.20,262.55 L48.31,262.55 L48.31,263.51 L46.42,263.51 L46.42,263.51 L44.53,263.51 L44.53,264.45 L42.64,264.45 L42.64,264.45 L39.50,264.45 Z" fill="rgb(148,219,148)"/>
<path d="M195.00,172.18 L196.00,171.33 L197.00,170.48 L198.00,169.63 L199.00,168.77 L200.00,167.90 L201.00,167.02 L202.00,166.14 L203.00,165.25 L204.00,164.35 L205.00,163.45 L206.00,162.55 L207.00,161.64 L208.00,160.72 L209.00,159.81 L210.00,158.89 L211.00,157.97 L212.00,157.05 L213.00,156.13 L214.00,155.21 L215.00,154.29 L216.00,153.37 L217.00,152.45 L218.00,151.52 L219.00,150.57 L220.00,149.61 L221.00,148.64 L222.00,147.66 L223.00,146.67 L224.00,145.68 L225.00,144.69 L226.00,143.68 L227.00,142.67 L228.00,141.66 L229.00,140.64 L230.00,139.62 L231.00,138.59 L232.00,137.56 L233.00,136.52 L234.00,135.49 L235.00,134.44 L236.00,133.40 L237.00,132.35 L238.00,131.31 L239.00,130.26 L240.00,129.21 L241.00,128.15 L242.00,127.10 L243.00,126.04 L244.00,124.99 L245.00,123.92 L246.00,122.86 L247.00,121.79 L248.00,120.71 L249.00,119.64 L250.00,118.56 L251.00,117.48 L252.00,116.39 L253.00,115.30 L254.00,114.21 L255.00,113.12 L256.00,112.02 L257.00,110.92 L258.00,109.82 L259.00,108.72 L260.00,107.62 L261.00,106.51 L262.00,105.40 L263.00,104.29 L264.00,103.18 L265.00,102.07 L266.00,100.97 L267.00,99.85 L268.00,98.74 L269.00,97.63 L270.00,96.51 L271.00,95.39 L272.00,94.27 L273.00,93.14 L274.00,92.01 L275.00,90.87 L276.00,89.72 L277.00,88.57 L278.00,87.41 L279.00,86.25 L280.00,85.07 L281.00,83.89 L282.00,82.70 L283.00,81.50 L284.00,80.28 L285.00,79.05 L286.00,77.81 L287.00,76.55 L288.00,75.29 L289.00,74.03 L290.00,72.75 L291.00,71.47 L292.00,70.19 L293.00,68.90 L294.00,67.62 L295.00,66.33 L296.00,65.04 L297.00,63.76 L298.00,62.48 L299.00,61.21 L300.00,59.94 L301.00,58.67 L302.00,57.42 L303.00,56.16 L304.00,54.91 L305.00,53.65 L306.00,52.40" fill="none" stroke="rgb(148,219,148)" stroke-width="1.8" stroke-linecap="butt"/>
<path d="M39.50,266.77 L42.64,266.77 L42.64,264.92 L44.53,264.92 L44.53,264.92 L46.42,264.92 L46.42,264.92 L48.31,264.92 L48.31,264.92 L50.20,264.92 L50.20,263.06 L52.09,263.06 L52.09,263.06 L53.98,263.06 L53.98,263.06 L55.87,263.06 L55.87,261.20 L57.76,261.20 L57.76,261.20 L59.65,261.20 L59.65,261.20 L61.53,261.20 L61.53,261.20 L63.42,261.20 L63.42,259.35 L65.31,259.35 L65.31,259.35 L67.20,259.35 L67.20,259.35 L69.09,259.35 L69.09,257.49 L70.98,257.49 L70.98,257.49 L72.87,257.49 L72.87,257.49 L74.76,257.49 L74.76,255.63 L76.65,255.63 L76.65,255.63 L78.54,255.63 L78.54,255.63 L80.42,255.63 L80.42,253.77 L82.31,253.77 L82.31,253.77 L84.20,253.77 L84.20,251.92 L86.09,251.92 L86.09,251.92 L87.98,251.92 L87.98,251.92 L89.87,251.92 L89.87,250.06 L91.76,250.06 L92.70,248.97 L93.65,248.60 L94.59,248.06 L95.54,247.91 L96.48,247.15 L97.43,247.20 L98.37,246.23 L99.31,246.47 L100.26,245.29 L101.20,245.72 L102.15,244.32 L103.09,244.95 L104.04,243.33 L104.98,244.17 L105.93,242.32 L106.87,243.15 L107.82,241.29 L108.76,242.12 L109.70,240.24 L110.65,241.07 L111.59,239.18 L112.54,239.98 L113.48,238.10 L114.43,238.87 L115.37,237.00 L116.32,237.73 L117.26,235.89 L118.20,236.55 L119.15,234.76 L120.09,235.32 L121.04,233.61 L121.98,234.04 L122.93,232.45 L123.87,232.71 L124.82,231.26 L125.76,231.34 L126.71,230.06 L127.65,229.92 L128.59,228.83 L129.54,228.48 L129.54,229.07 L128.59,229.90 L127.65,230.94 L126.71,231.56 L125.76,232.77 L124.82,233.16 L123.87,234.52 L122.93,234.70 L121.98,236.18 L121.04,236.17 L120.09,237.73 L119.15,237.55 L118.20,239.15 L117.26,238.83 L116.32,240.46 L115.37,240.05 L114.43,241.68 L113.48,241.21 L112.54,242.84 L111.59,242.32 L110.65,243.94 L109.70,243.39 L108.76,244.99 L107.82,244.43 L106.87,246.01 L105.93,245.44 L104.98,247.01 L104.04,246.44 L103.09,247.99 L102.15,247.65 L101.20,248.97 L100.26,248.86 L99.31,249.96 L98.37,250.08 L97.43,250.97 L96.48,251.32 L95.54,251.99 L94.59,252.57 L93.65,253.01 L92.70,253.82 L91.76,254.02 L89.87,254.02 L89.87,255.99 L87.98,255.99 L87.98,255.99 L86.09,255.99 L86.09,257.91 L84.20,257.91 L84.20,257.91 L82.31,257.91 L82.31,259.79 L80.42,259.79 L80.42,259.79 L78.54,259.79 L78.54,261.54 L76.65,261.54 L76.65,261.54 L74.76,261.54 L74.76,263.09 L72.87,263.09 L72.87,263.09 L70.98,263.09 L70.98,264.54 L69.09,264.54 L69.09,264.54 L67.20,264.54 L67.20,265.92 L65.31,265.92 L65.31,265.92 L63.42,265.92 L63.42,267.28 L61.53,267.28 L61.53,267.28 L59.65,267.28 L59.65,268.69 L57.76,268.69 L57.76,268.69 L55.87,268.69 L55.87,270.09 L53.98,270.09 L53.98,270.09 L52.09,270.09 L52.09,271.49 L50.20,271.49 L50.20,271.49 L48.31,271.49 L48.31,273.02 L46.42,273.02 L46.42,273.02 L44.53,273.02 L44.53,274.80 L42.64,274.80 L42.64,274.80 L39.50,274.80 Z" fill="rgb(255,148,148)"/>
<path d="M127.00,230.06 L128.00,230.02 L129.00,228.76 L130.00,228.70 L131.00,227.44 L132.00,227.36 L133.00,226.08 L134.00,226.00 L135.00,224.70 L136.00,224.59 L137.00,223.27 L138.00,223.14 L139.00,221.79 L140.00,221.64 L141.00,220.27 L142.00,220.11 L143.00,218.74 L144.00,218.56 L145.00,217.18 L146.00,217.01 L147.00,215.63 L148.00,215.46 L149.00,214.09 L150.00,213.93 L151.00,212.57 L152.00,212.43 L153.00,211.09 L154.00,210.96 L155.00,209.63 L156.00,209.49 L157.00,208.16 L158.00,208.02 L159.00,206.66 L160.00,206.50 L161.00,205.12 L162.00,204.94 L163.00,203.54 L164.00,203.34 L165.00,201.93 L166.00,201.71 L167.00,200.30 L168.00,200.07 L169.00,198.65 L170.00,198.42 L171.00,196.99 L172.00,196.77 L173.00,195.34 L174.00,195.12 L175.00,193.69 L176.00,193.47 L177.00,192.05 L178.00,191.82 L179.00,190.39 L180.00,190.17 L181.00,188.74 L182.00,188.51 L183.00,187.07 L184.00,186.84 L185.00,185.40 L186.00,185.17 L187.00,183.73 L188.00,183.49 L189.00,182.04 L190.00,181.80 L191.00,180.36 L192.00,180.11 L193.00,178.67 L194.00,178.43 L195.00,176.99 L196.00,176.74 L197.00,175.29 L198.00,175.03 L199.00,173.56 L200.00,173.29 L201.00,171.80 L202.00,171.50 L203.00,169.98 L204.00,169.64 L205.00,168.08 L205.40,167.70" fill="none" stroke="rgb(255,148,148)" stroke-width="1.8" stroke-linecap="butt"/>
</g>
<path d="M49.5,299 v-4.0 M49.5,21 v4.0 M58.5,299 v-4.0 M58.5,21 v4.0 M67.5,299 v-4.0 M67.5,21 v4.0 M77.5,299 v-4.0 M77.5,21 v4.0 M86.5,299 v-4.0 M86.5,21 v4.0 M95.5,299 v-4.0 M95.5,21 v4.0 M104.5,299 v-4.0 M104.5,21 v4.0 M114.5,299 v-4.0 M114.5,21 v4.0 M123.5,299 v-4.0 M123.5,21 v4.0 M132.5,299 v-8.0 M132.5,21 v8.0 M142.5,299 v-4.0 M142.5,21 v4.0 M151.5,299 v-4.0 M151.5,21 v4.0 M160.5,299 v-4.0 M160.5,21 v4.0 M169.5,299 v-4.0 M169.5,21 v4.0 M179.5,299 v-4.0 M179.5,21 v4.0 M188.5,299 v-4.0 M188.5,21 v4.0 M197.5,299 v-4.0 M197.5,21 v4.0 M206.5,299 v-4.0 M206.5,21 v4.0 M216.5,299 v-4.0 M216.5,21 v4.0 M225.5,299 v-8.0 M225.5,21 v8.0 M234.5,299 v-4.0 M234.5,21 v4.0 M244.5,299 v-4.0 M244.5,21 v4.0 M253.5,299 v-4.0 M253.5,21 v4.0 M262.5,299 v-4.0 M262.5,21 v4.0 M271.5,299 v-4.0 M271.5,21 v4.0 M281.5,299 v-4.0 M281.5,21 v4.0 M290.5,299 v-4.0 M290.5,21 v4.0 M299.5,299 v-4.0 M299.5,21 v4.0 M309.5,299 v-4.0 M309.5,21 v4.0 M40,290.5 h4.0 M318,290.5 h-4.0 M40,281.5 h4.0 M318,281.5 h-4.0 M40,271.5 h4.0 M318,271.5 h-4.0 M40,262.5 h4.0 M318,262.5 h-4.0 M40,253.5 h4.0 M318,253.5 h-4.0 M40,244.5 h4.0 M318,244.5 h-4.0 M40,234.5 h4.0 M318,234.5 h-4.0 M40,225.5 h4.0 M318,225.5 h-4.0 M40,216.5 h4.0 M318,216.5 h-4.0 M40,206.5 h8.0 M318,206.5 h-8.0 M40,197.5 h4.0 M318,197.5 h-4.0 M40,188.5 h4.0 M318,188.5 h-4.0 M40,178.5 h4.0 M318,178.5 h-4.0 M40,169.5 h4.0 M318,169.5 h-4.0 M40,160.5 h4.0 M318,160.5 h-4.0 M40,151.5 h4.0 M318,151.5 h-4.0 M40,141.5 h4.0 M318,141.5 h-4.0 M40,132.5 h4.0 M318,132.5 h-4.0 M40,123.5 h4.0 M318,123.5 h-4.0 M40,113.5 h8.0 M318,113.5 h-8.0 M40,104.5 h4.0 M318,104.5 h-4.0 M40,95.5 h4.0 M318,95.5 h-4.0 M40,85.5 h4.0 M318,85.5 h-4.0 M40,76.5 h4.0 M318,76.5 h-4.0 M40,67.5 h4.0 M318,67.5 h-4.0 M40,58.5 h4.0 M318,58.5 h-4.0 M40,48.5 h4.0 M318,48.5 h-4.0 M40,39.5 h4.0 M318,39.5 h-4.0 M40,30.5 h4.0 M318,30.5 h-4.0 " stroke="rgb(156,156,156)" stroke-width="1" fill="none" shape-rendering="crispEdges"/>
<path d="M39.5,20 V300" fill="none" stroke="rgb(146,146,146)" stroke-width="1" shape-rendering="crispEdges"/>
<path d="M318.5,20 V300" fill="none" stroke="rgb(124,124,124)" stroke-width="1" shape-rendering="crispEdges"/>
<path d="M39,20.5 H319" fill="none" stroke="rgb(128,128,128)" stroke-width="1" shape-rendering="crispEdges"/>
<path d="M39,299.5 H319" fill="none" stroke="rgb(100,100,100)" stroke-width="1" shape-rendering="crispEdges"/>
<g clip-path="url(#cp)">
<circle cx="41.70" cy="197.56" r="1.12" fill="rgb(153,102,51)"/>
<circle cx="43.59" cy="197.56" r="1.12" fill="rgb(153,102,51)"/>
<circle cx="45.48" cy="197.56" r="1.12" fill="rgb(153,102,51)"/>
<circle cx="47.37" cy="195.71" r="1.12" fill="rgb(153,102,51)"/>
<circle cx="49.26" cy="195.71" r="1.12" fill="rgb(153,102,51)"/>
<circle cx="53.03" cy="195.71" r="1.12" fill="rgb(153,102,51)"/>
<circle cx="54.92" cy="195.71" r="1.12" fill="rgb(153,102,51)"/>
<circle cx="56.81" cy="195.71" r="1.12" fill="rgb(153,102,51)"/>
<circle cx="58.70" cy="193.85" r="1.12" fill="rgb(153,102,51)"/>
<circle cx="60.59" cy="193.85" r="1.12" fill="rgb(153,102,51)"/>
<circle cx="64.37" cy="193.85" r="1.12" fill="rgb(153,102,51)"/>
<circle cx="66.26" cy="193.85" r="1.12" fill="rgb(153,102,51)"/>
<circle cx="68.15" cy="191.99" r="1.12" fill="rgb(153,102,51)"/>
<circle cx="70.04" cy="191.99" r="1.12" fill="rgb(153,102,51)"/>
<circle cx="71.92" cy="191.99" r="1.12" fill="rgb(153,102,51)"/>
<circle cx="75.70" cy="190.14" r="1.12" fill="rgb(153,102,51)"/>
<circle cx="77.59" cy="190.14" r="1.12" fill="rgb(153,102,51)"/>
<circle cx="79.48" cy="188.28" r="1.12" fill="rgb(153,102,51)"/>
<circle cx="81.37" cy="188.28" r="1.12" fill="rgb(153,102,51)"/>
<circle cx="83.26" cy="188.28" r="1.12" fill="rgb(153,102,51)"/>
<circle cx="87.04" cy="186.42" r="1.12" fill="rgb(153,102,51)"/>
<circle cx="88.93" cy="186.42" r="1.12" fill="rgb(153,102,51)"/>
<circle cx="90.81" cy="184.57" r="1.12" fill="rgb(153,102,51)"/>
<circle cx="92.70" cy="184.57" r="1.12" fill="rgb(153,102,51)"/>
<circle cx="94.59" cy="184.57" r="1.12" fill="rgb(153,102,51)"/>
<circle cx="98.37" cy="182.71" r="1.12" fill="rgb(153,102,51)"/>
<circle cx="100.26" cy="182.71" r="1.12" fill="rgb(153,102,51)"/>
<circle cx="102.15" cy="180.85" r="1.12" fill="rgb(153,102,51)"/>
<circle cx="104.04" cy="180.85" r="1.12" fill="rgb(153,102,51)"/>
<circle cx="105.93" cy="179.00" r="1.12" fill="rgb(153,102,51)"/>
<circle cx="109.70" cy="179.00" r="1.12" fill="rgb(153,102,51)"/>
<circle cx="111.59" cy="177.14" r="1.12" fill="rgb(153,102,51)"/>
<circle cx="113.48" cy="177.14" r="1.12" fill="rgb(153,102,51)"/>
<circle cx="115.37" cy="175.28" r="1.12" fill="rgb(153,102,51)"/>
<circle cx="117.26" cy="175.28" r="1.12" fill="rgb(153,102,51)"/>
<circle cx="121.04" cy="173.42" r="1.12" fill="rgb(153,102,51)"/>
<circle cx="122.93" cy="171.57" r="1.12" fill="rgb(153,102,51)"/>
<circle cx="124.82" cy="171.57" r="1.12" fill="rgb(153,102,51)"/>
<circle cx="126.71" cy="169.71" r="1.12" fill="rgb(153,102,51)"/>
<circle cx="128.59" cy="169.71" r="1.12" fill="rgb(153,102,51)"/>
<circle cx="132.37" cy="166.00" r="1.12" fill="rgb(153,102,51)"/>
<circle cx="134.26" cy="166.00" r="1.12" fill="rgb(153,102,51)"/>
<circle cx="136.15" cy="164.14" r="1.12" fill="rgb(153,102,51)"/>
<circle cx="138.04" cy="164.14" r="1.12" fill="rgb(153,102,51)"/>
<circle cx="139.93" cy="162.28" r="1.12" fill="rgb(153,102,51)"/>
<circle cx="143.71" cy="160.42" r="1.12" fill="rgb(153,102,51)"/>
<circle cx="145.60" cy="158.57" r="1.12" fill="rgb(153,102,51)"/>
<circle cx="147.48" cy="158.57" r="1.12" fill="rgb(153,102,51)"/>
<circle cx="149.37" cy="156.71" r="1.12" fill="rgb(153,102,51)"/>
<circle cx="151.26" cy="156.71" r="1.12" fill="rgb(153,102,51)"/>
<circle cx="155.04" cy="153.00" r="1.12" fill="rgb(153,102,51)"/>
<circle cx="156.93" cy="153.00" r="1.12" fill="rgb(153,102,51)"/>
<circle cx="158.82" cy="151.14" r="1.12" fill="rgb(153,102,51)"/>
<circle cx="160.71" cy="149.28" r="1.12" fill="rgb(153,102,51)"/>
<circle cx="162.60" cy="149.28" r="1.12" fill="rgb(153,102,51)"/>
<circle cx="166.37" cy="145.57" r="1.12" fill="rgb(153,102,51)"/>
<circle cx="168.26" cy="143.71" r="1.12" fill="rgb(153,102,51)"/>
<circle cx="170.15" cy="143.71" r="1.12" fill="rgb(153,102,51)"/>
<circle cx="172.04" cy="141.85" r="1.12" fill="rgb(153,102,51)"/>
<circle cx="173.93" cy="140.00" r="1.12" fill="rgb(153,102,51)"/>
<circle cx="177.71" cy="138.14" r="1.12" fill="rgb(153,102,51)"/>
<circle cx="179.60" cy="136.28" r="1.12" fill="rgb(153,102,51)"/>
<circle cx="181.49" cy="134.43" r="1.12" fill="rgb(153,102,51)"/>
<circle cx="183.38" cy="132.57" r="1.12" fill="rgb(153,102,51)"/>
<circle cx="185.26" cy="132.57" r="1.12" fill="rgb(153,102,51)"/>
<circle cx="189.04" cy="128.86" r="1.12" fill="rgb(153,102,51)"/>
<circle cx="190.93" cy="127.00" r="1.12" fill="rgb(153,102,51)"/>
<circle cx="192.82" cy="127.00" r="1.12" fill="rgb(153,102,51)"/>
<circle cx="194.71" cy="125.14" r="1.12" fill="rgb(153,102,51)"/>
<circle cx="196.60" cy="123.28" r="1.12" fill="rgb(153,102,51)"/>
<circle cx="200.38" cy="121.43" r="1.12" fill="rgb(153,102,51)"/>
<circle cx="202.27" cy="119.57" r="1.12" fill="rgb(153,102,51)"/>
<circle cx="204.15" cy="117.71" r="1.12" fill="rgb(153,102,51)"/>
<circle cx="206.04" cy="115.86" r="1.12" fill="rgb(153,102,51)"/>
<circle cx="207.93" cy="114.00" r="1.12" fill="rgb(153,102,51)"/>
<circle cx="209.82" cy="112.14" r="1.12" fill="rgb(153,102,51)"/>
<circle cx="211.71" cy="110.29" r="1.12" fill="rgb(153,102,51)"/>
<circle cx="221.16" cy="102.86" r="1.12" fill="rgb(153,102,51)"/>
<circle cx="223.04" cy="101.00" r="1.12" fill="rgb(153,102,51)"/>
<circle cx="224.93" cy="99.14" r="1.12" fill="rgb(153,102,51)"/>
<circle cx="226.82" cy="97.29" r="1.12" fill="rgb(153,102,51)"/>
<circle cx="228.71" cy="95.43" r="1.12" fill="rgb(153,102,51)"/>
<circle cx="230.60" cy="93.57" r="1.12" fill="rgb(153,102,51)"/>
<circle cx="232.49" cy="91.72" r="1.12" fill="rgb(153,102,51)"/>
<circle cx="243.82" cy="82.43" r="1.12" fill="rgb(153,102,51)"/>
<circle cx="257.05" cy="69.43" r="1.12" fill="rgb(153,102,51)"/>
<circle cx="266.49" cy="58.29" r="1.12" fill="rgb(153,102,51)"/>
<circle cx="268.38" cy="56.43" r="1.12" fill="rgb(153,102,51)"/>
<circle cx="270.27" cy="54.58" r="1.12" fill="rgb(153,102,51)"/>
<circle cx="272.16" cy="52.72" r="1.12" fill="rgb(153,102,51)"/>
<circle cx="274.05" cy="50.86" r="1.12" fill="rgb(153,102,51)"/>
<circle cx="275.94" cy="49.00" r="1.12" fill="rgb(153,102,51)"/>
<circle cx="277.83" cy="47.15" r="1.12" fill="rgb(153,102,51)"/>
<circle cx="285.38" cy="37.86" r="1.12" fill="rgb(153,102,51)"/>
<circle cx="287.27" cy="36.01" r="1.12" fill="rgb(153,102,51)"/>
<circle cx="289.16" cy="32.29" r="1.12" fill="rgb(153,102,51)"/>
<circle cx="298.60" cy="23.01" r="1.12" fill="rgb(153,102,51)"/>
<circle cx="300.49" cy="21.15" r="1.12" fill="rgb(153,102,51)"/>
<circle cx="302.38" cy="19.29" r="1.12" fill="rgb(153,102,51)"/>
<circle cx="304.27" cy="15.58" r="1.12" fill="rgb(153,102,51)"/>
<circle cx="306.16" cy="13.72" r="1.12" fill="rgb(153,102,51)"/>
<circle cx="308.05" cy="11.87" r="1.12" fill="rgb(153,102,51)"/>
<circle cx="309.94" cy="10.01" r="1.12" fill="rgb(153,102,51)"/>
<circle cx="311.83" cy="6.29" r="1.12" fill="rgb(153,102,51)"/>
<circle cx="313.72" cy="4.44" r="1.12" fill="rgb(153,102,51)"/>
<circle cx="315.61" cy="0.72" r="1.12" fill="rgb(153,102,51)"/>
<circle cx="317.49" cy="-2.99" r="1.12" fill="rgb(153,102,51)"/>
<circle cx="41.70" cy="225.42" r="1.12" fill="rgb(255,0,255)"/>
<circle cx="43.59" cy="225.42" r="1.12" fill="rgb(255,0,255)"/>
<circle cx="45.48" cy="225.42" r="1.12" fill="rgb(255,0,255)"/>
<circle cx="47.37" cy="223.56" r="1.12" fill="rgb(255,0,255)"/>
<circle cx="51.15" cy="223.56" r="1.12" fill="rgb(255,0,255)"/>
<circle cx="53.03" cy="223.56" r="1.12" fill="rgb(255,0,255)"/>
<circle cx="54.92" cy="221.71" r="1.12" fill="rgb(255,0,255)"/>
<circle cx="56.81" cy="221.71" r="1.12" fill="rgb(255,0,255)"/>
<circle cx="60.59" cy="221.71" r="1.12" fill="rgb(255,0,255)"/>
<circle cx="62.48" cy="219.85" r="1.12" fill="rgb(255,0,255)"/>
<circle cx="64.37" cy="219.85" r="1.12" fill="rgb(255,0,255)"/>
<circle cx="66.26" cy="219.85" r="1.12" fill="rgb(255,0,255)"/>
<circle cx="70.04" cy="217.99" r="1.12" fill="rgb(255,0,255)"/>
<circle cx="71.92" cy="217.99" r="1.12" fill="rgb(255,0,255)"/>
<circle cx="73.81" cy="217.99" r="1.12" fill="rgb(255,0,255)"/>
<circle cx="75.70" cy="216.13" r="1.12" fill="rgb(255,0,255)"/>
<circle cx="79.48" cy="216.13" r="1.12" fill="rgb(255,0,255)"/>
<circle cx="81.37" cy="214.28" r="1.12" fill="rgb(255,0,255)"/>
<circle cx="83.26" cy="214.28" r="1.12" fill="rgb(255,0,255)"/>
<circle cx="85.15" cy="214.28" r="1.12" fill="rgb(255,0,255)"/>
<circle cx="88.93" cy="212.42" r="1.12" fill="rgb(255,0,255)"/>
<circle cx="90.81" cy="212.42" r="1.12" fill="rgb(255,0,255)"/>
<circle cx="92.70" cy="210.56" r="1.12" fill="rgb(255,0,255)"/>
<circle cx="94.59" cy="210.56" r="1.12" fill="rgb(255,0,255)"/>
<circle cx="98.37" cy="208.71" r="1.12" fill="rgb(255,0,255)"/>
<circle cx="100.26" cy="208.71" r="1.12" fill="rgb(255,0,255)"/>
<circle cx="102.15" cy="206.85" r="1.12" fill="rgb(255,0,255)"/>
<circle cx="104.04" cy="206.85" r="1.12" fill="rgb(255,0,255)"/>
<circle cx="107.82" cy="204.99" r="1.12" fill="rgb(255,0,255)"/>
<circle cx="109.70" cy="203.14" r="1.12" fill="rgb(255,0,255)"/>
<circle cx="111.59" cy="203.14" r="1.12" fill="rgb(255,0,255)"/>
<circle cx="113.48" cy="201.28" r="1.12" fill="rgb(255,0,255)"/>
<circle cx="117.26" cy="199.42" r="1.12" fill="rgb(255,0,255)"/>
<circle cx="121.04" cy="197.56" r="1.12" fill="rgb(255,0,255)"/>
<circle cx="124.82" cy="195.71" r="1.12" fill="rgb(255,0,255)"/>
<circle cx="128.59" cy="193.85" r="1.12" fill="rgb(255,0,255)"/>
<circle cx="132.37" cy="191.99" r="1.12" fill="rgb(255,0,255)"/>
<circle cx="136.15" cy="190.14" r="1.12" fill="rgb(255,0,255)"/>
<circle cx="139.93" cy="186.42" r="1.12" fill="rgb(255,0,255)"/>
<circle cx="143.71" cy="184.57" r="1.12" fill="rgb(255,0,255)"/>
<circle cx="147.48" cy="182.71" r="1.12" fill="rgb(255,0,255)"/>
<circle cx="151.26" cy="180.85" r="1.12" fill="rgb(255,0,255)"/>
<circle cx="155.04" cy="177.14" r="1.12" fill="rgb(255,0,255)"/>
<circle cx="158.82" cy="175.28" r="1.12" fill="rgb(255,0,255)"/>
<circle cx="162.60" cy="171.57" r="1.12" fill="rgb(255,0,255)"/>
<circle cx="166.37" cy="169.71" r="1.12" fill="rgb(255,0,255)"/>
<circle cx="168.26" cy="167.85" r="1.12" fill="rgb(255,0,255)"/>
<circle cx="173.93" cy="164.14" r="1.12" fill="rgb(255,0,255)"/>
<circle cx="175.82" cy="162.28" r="1.12" fill="rgb(255,0,255)"/>
<circle cx="177.71" cy="162.28" r="1.12" fill="rgb(255,0,255)"/>
<circle cx="179.60" cy="160.42" r="1.12" fill="rgb(255,0,255)"/>
<circle cx="181.49" cy="158.57" r="1.12" fill="rgb(255,0,255)"/>
<circle cx="187.15" cy="154.85" r="1.12" fill="rgb(255,0,255)"/>
<circle cx="189.04" cy="153.00" r="1.12" fill="rgb(255,0,255)"/>
<circle cx="190.93" cy="151.14" r="1.12" fill="rgb(255,0,255)"/>
<circle cx="192.82" cy="149.28" r="1.12" fill="rgb(255,0,255)"/>
<circle cx="194.71" cy="149.28" r="1.12" fill="rgb(255,0,255)"/>
<circle cx="200.38" cy="143.71" r="1.12" fill="rgb(255,0,255)"/>
<circle cx="202.27" cy="141.85" r="1.12" fill="rgb(255,0,255)"/>
<circle cx="204.15" cy="140.00" r="1.12" fill="rgb(255,0,255)"/>
<circle cx="206.04" cy="138.14" r="1.12" fill="rgb(255,0,255)"/>
<circle cx="207.93" cy="136.28" r="1.12" fill="rgb(255,0,255)"/>
<circle cx="213.60" cy="132.57" r="1.12" fill="rgb(255,0,255)"/>
<circle cx="215.49" cy="130.71" r="1.12" fill="rgb(255,0,255)"/>
<circle cx="217.38" cy="128.86" r="1.12" fill="rgb(255,0,255)"/>
<circle cx="219.27" cy="127.00" r="1.12" fill="rgb(255,0,255)"/>
<circle cx="221.16" cy="125.14" r="1.12" fill="rgb(255,0,255)"/>
<circle cx="226.82" cy="119.57" r="1.12" fill="rgb(255,0,255)"/>
<circle cx="228.71" cy="117.71" r="1.12" fill="rgb(255,0,255)"/>
<circle cx="230.60" cy="115.86" r="1.12" fill="rgb(255,0,255)"/>
<circle cx="232.49" cy="114.00" r="1.12" fill="rgb(255,0,255)"/>
<circle cx="234.38" cy="112.14" r="1.12" fill="rgb(255,0,255)"/>
<circle cx="240.05" cy="106.57" r="1.12" fill="rgb(255,0,255)"/>
<circle cx="241.93" cy="102.86" r="1.12" fill="rgb(255,0,255)"/>
<circle cx="243.82" cy="101.00" r="1.12" fill="rgb(255,0,255)"/>
<circle cx="245.71" cy="99.14" r="1.12" fill="rgb(255,0,255)"/>
<circle cx="247.60" cy="97.29" r="1.12" fill="rgb(255,0,255)"/>
<circle cx="253.27" cy="91.72" r="1.12" fill="rgb(255,0,255)"/>
<circle cx="255.16" cy="89.86" r="1.12" fill="rgb(255,0,255)"/>
<circle cx="270.27" cy="75.00" r="1.12" fill="rgb(255,0,255)"/>
<circle cx="272.16" cy="73.15" r="1.12" fill="rgb(255,0,255)"/>
<circle cx="274.05" cy="71.29" r="1.12" fill="rgb(255,0,255)"/>
<circle cx="279.71" cy="63.86" r="1.12" fill="rgb(255,0,255)"/>
<circle cx="281.60" cy="62.00" r="1.12" fill="rgb(255,0,255)"/>
<circle cx="283.49" cy="60.15" r="1.12" fill="rgb(255,0,255)"/>
<circle cx="285.38" cy="56.43" r="1.12" fill="rgb(255,0,255)"/>
<circle cx="287.27" cy="54.58" r="1.12" fill="rgb(255,0,255)"/>
<circle cx="292.94" cy="49.00" r="1.12" fill="rgb(255,0,255)"/>
<circle cx="294.83" cy="45.29" r="1.12" fill="rgb(255,0,255)"/>
<circle cx="296.72" cy="43.43" r="1.12" fill="rgb(255,0,255)"/>
<circle cx="298.60" cy="41.58" r="1.12" fill="rgb(255,0,255)"/>
<circle cx="300.49" cy="39.72" r="1.12" fill="rgb(255,0,255)"/>
<circle cx="306.16" cy="32.29" r="1.12" fill="rgb(255,0,255)"/>
<circle cx="308.05" cy="30.44" r="1.12" fill="rgb(255,0,255)"/>
<circle cx="309.94" cy="28.58" r="1.12" fill="rgb(255,0,255)"/>
<circle cx="311.83" cy="24.86" r="1.12" fill="rgb(255,0,255)"/>
<circle cx="313.72" cy="23.01" r="1.12" fill="rgb(255,0,255)"/>
<circle cx="41.70" cy="243.99" r="1.12" fill="rgb(0,0,255)"/>
<circle cx="43.59" cy="243.99" r="1.12" fill="rgb(0,0,255)"/>
<circle cx="45.48" cy="243.99" r="1.12" fill="rgb(0,0,255)"/>
<circle cx="47.37" cy="243.99" r="1.12" fill="rgb(0,0,255)"/>
<circle cx="51.15" cy="242.13" r="1.12" fill="rgb(0,0,255)"/>
<circle cx="53.03" cy="242.13" r="1.12" fill="rgb(0,0,255)"/>
<circle cx="54.92" cy="242.13" r="1.12" fill="rgb(0,0,255)"/>
<circle cx="56.81" cy="242.13" r="1.12" fill="rgb(0,0,255)"/>
<circle cx="60.59" cy="240.28" r="1.12" fill="rgb(0,0,255)"/>
<circle cx="62.48" cy="240.28" r="1.12" fill="rgb(0,0,255)"/>
<circle cx="64.37" cy="238.42" r="1.12" fill="rgb(0,0,255)"/>
<circle cx="66.26" cy="238.42" r="1.12" fill="rgb(0,0,255)"/>
<circle cx="70.04" cy="236.56" r="1.12" fill="rgb(0,0,255)"/>
<circle cx="71.92" cy="236.56" r="1.12" fill="rgb(0,0,255)"/>
<circle cx="73.81" cy="236.56" r="1.12" fill="rgb(0,0,255)"/>
<circle cx="75.70" cy="234.70" r="1.12" fill="rgb(0,0,255)"/>
<circle cx="79.48" cy="234.70" r="1.12" fill="rgb(0,0,255)"/>
<circle cx="83.26" cy="232.85" r="1.12" fill="rgb(0,0,255)"/>
<circle cx="87.04" cy="230.99" r="1.12" fill="rgb(0,0,255)"/>
<circle cx="88.93" cy="230.99" r="1.12" fill="rgb(0,0,255)"/>
<circle cx="90.81" cy="229.13" r="1.12" fill="rgb(0,0,255)"/>
<circle cx="94.59" cy="229.13" r="1.12" fill="rgb(0,0,255)"/>
<circle cx="98.37" cy="227.28" r="1.12" fill="rgb(0,0,255)"/>
<circle cx="102.15" cy="225.42" r="1.12" fill="rgb(0,0,255)"/>
<circle cx="105.93" cy="223.56" r="1.12" fill="rgb(0,0,255)"/>
<circle cx="107.82" cy="221.71" r="1.12" fill="rgb(0,0,255)"/>
<circle cx="109.70" cy="221.71" r="1.12" fill="rgb(0,0,255)"/>
<circle cx="113.48" cy="219.85" r="1.12" fill="rgb(0,0,255)"/>
<circle cx="117.26" cy="217.99" r="1.12" fill="rgb(0,0,255)"/>
<circle cx="121.04" cy="216.13" r="1.12" fill="rgb(0,0,255)"/>
<circle cx="124.82" cy="214.28" r="1.12" fill="rgb(0,0,255)"/>
<circle cx="126.71" cy="212.42" r="1.12" fill="rgb(0,0,255)"/>
<circle cx="128.59" cy="210.56" r="1.12" fill="rgb(0,0,255)"/>
<circle cx="132.37" cy="208.71" r="1.12" fill="rgb(0,0,255)"/>
<circle cx="136.15" cy="206.85" r="1.12" fill="rgb(0,0,255)"/>
<circle cx="139.93" cy="203.14" r="1.12" fill="rgb(0,0,255)"/>
<circle cx="143.71" cy="201.28" r="1.12" fill="rgb(0,0,255)"/>
<circle cx="145.60" cy="201.28" r="1.12" fill="rgb(0,0,255)"/>
<circle cx="147.48" cy="199.42" r="1.12" fill="rgb(0,0,255)"/>
<circle cx="151.26" cy="197.56" r="1.12" fill="rgb(0,0,255)"/>
<circle cx="155.04" cy="193.85" r="1.12" fill="rgb(0,0,255)"/>
<circle cx="158.82" cy="191.99" r="1.12" fill="rgb(0,0,255)"/>
<circle cx="162.60" cy="188.28" r="1.12" fill="rgb(0,0,255)"/>
<circle cx="164.49" cy="188.28" r="1.12" fill="rgb(0,0,255)"/>
<circle cx="170.15" cy="182.71" r="1.12" fill="rgb(0,0,255)"/>
<circle cx="172.04" cy="180.85" r="1.12" fill="rgb(0,0,255)"/>
<circle cx="177.71" cy="177.14" r="1.12" fill="rgb(0,0,255)"/>
<circle cx="179.60" cy="175.28" r="1.12" fill="rgb(0,0,255)"/>
<circle cx="185.26" cy="171.57" r="1.12" fill="rgb(0,0,255)"/>
<circle cx="187.15" cy="169.71" r="1.12" fill="rgb(0,0,255)"/>
<circle cx="192.82" cy="166.00" r="1.12" fill="rgb(0,0,255)"/>
<circle cx="194.71" cy="164.14" r="1.12" fill="rgb(0,0,255)"/>
<circle cx="200.38" cy="158.57" r="1.12" fill="rgb(0,0,255)"/>
<circle cx="202.27" cy="156.71" r="1.12" fill="rgb(0,0,255)"/>
<circle cx="207.93" cy="151.14" r="1.12" fill="rgb(0,0,255)"/>
<circle cx="209.82" cy="149.28" r="1.12" fill="rgb(0,0,255)"/>
<circle cx="215.49" cy="143.71" r="1.12" fill="rgb(0,0,255)"/>
<circle cx="217.38" cy="141.85" r="1.12" fill="rgb(0,0,255)"/>
<circle cx="223.04" cy="138.14" r="1.12" fill="rgb(0,0,255)"/>
<circle cx="224.93" cy="136.28" r="1.12" fill="rgb(0,0,255)"/>
<circle cx="268.38" cy="89.86" r="1.12" fill="rgb(0,0,255)"/>
<circle cx="281.60" cy="73.15" r="1.12" fill="rgb(0,0,255)"/>
<circle cx="300.49" cy="52.72" r="1.12" fill="rgb(0,0,255)"/>
<circle cx="308.05" cy="43.43" r="1.12" fill="rgb(0,0,255)"/>
<circle cx="41.70" cy="256.99" r="1.12" fill="rgb(0,170,0)"/>
<circle cx="43.59" cy="256.99" r="1.12" fill="rgb(0,170,0)"/>
<circle cx="45.48" cy="256.99" r="1.12" fill="rgb(0,170,0)"/>
<circle cx="49.26" cy="255.13" r="1.12" fill="rgb(0,170,0)"/>
<circle cx="51.15" cy="255.13" r="1.12" fill="rgb(0,170,0)"/>
<circle cx="53.03" cy="255.13" r="1.12" fill="rgb(0,170,0)"/>
<circle cx="54.92" cy="253.27" r="1.12" fill="rgb(0,170,0)"/>
<circle cx="56.81" cy="253.27" r="1.12" fill="rgb(0,170,0)"/>
<circle cx="60.59" cy="253.27" r="1.12" fill="rgb(0,170,0)"/>
<circle cx="64.37" cy="251.42" r="1.12" fill="rgb(0,170,0)"/>
<circle cx="68.15" cy="249.56" r="1.12" fill="rgb(0,170,0)"/>
<circle cx="71.92" cy="249.56" r="1.12" fill="rgb(0,170,0)"/>
<circle cx="75.70" cy="247.70" r="1.12" fill="rgb(0,170,0)"/>
<circle cx="79.48" cy="245.85" r="1.12" fill="rgb(0,170,0)"/>
<circle cx="83.26" cy="243.99" r="1.12" fill="rgb(0,170,0)"/>
<circle cx="87.04" cy="242.13" r="1.12" fill="rgb(0,170,0)"/>
<circle cx="90.81" cy="240.28" r="1.12" fill="rgb(0,170,0)"/>
<circle cx="94.59" cy="238.42" r="1.12" fill="rgb(0,170,0)"/>
<circle cx="98.37" cy="236.56" r="1.12" fill="rgb(0,170,0)"/>
<circle cx="102.15" cy="234.70" r="1.12" fill="rgb(0,170,0)"/>
<circle cx="105.93" cy="232.85" r="1.12" fill="rgb(0,170,0)"/>
<circle cx="109.70" cy="230.99" r="1.12" fill="rgb(0,170,0)"/>
<circle cx="113.48" cy="229.13" r="1.12" fill="rgb(0,170,0)"/>
<circle cx="117.26" cy="227.28" r="1.12" fill="rgb(0,170,0)"/>
<circle cx="121.04" cy="225.42" r="1.12" fill="rgb(0,170,0)"/>
<circle cx="124.82" cy="223.56" r="1.12" fill="rgb(0,170,0)"/>
<circle cx="132.37" cy="219.85" r="1.12" fill="rgb(0,170,0)"/>
<circle cx="138.04" cy="216.13" r="1.12" fill="rgb(0,170,0)"/>
<circle cx="143.71" cy="212.42" r="1.12" fill="rgb(0,170,0)"/>
<circle cx="149.37" cy="206.85" r="1.12" fill="rgb(0,170,0)"/>
<circle cx="155.04" cy="203.14" r="1.12" fill="rgb(0,170,0)"/>
<circle cx="160.71" cy="199.42" r="1.12" fill="rgb(0,170,0)"/>
<circle cx="175.82" cy="188.28" r="1.12" fill="rgb(0,170,0)"/>
<circle cx="187.15" cy="177.14" r="1.12" fill="rgb(0,170,0)"/>
<circle cx="198.49" cy="167.85" r="1.12" fill="rgb(0,170,0)"/>
<circle cx="200.38" cy="166.00" r="1.12" fill="rgb(0,170,0)"/>
<circle cx="255.16" cy="112.14" r="1.12" fill="rgb(0,170,0)"/>
<circle cx="43.59" cy="264.42" r="1.12" fill="rgb(255,0,0)"/>
<circle cx="49.26" cy="264.42" r="1.12" fill="rgb(255,0,0)"/>
<circle cx="54.92" cy="262.56" r="1.12" fill="rgb(255,0,0)"/>
<circle cx="60.59" cy="260.70" r="1.12" fill="rgb(255,0,0)"/>
<circle cx="64.37" cy="258.85" r="1.12" fill="rgb(255,0,0)"/>
<circle cx="68.15" cy="258.85" r="1.12" fill="rgb(255,0,0)"/>
<circle cx="71.92" cy="256.99" r="1.12" fill="rgb(255,0,0)"/>
<circle cx="75.70" cy="255.13" r="1.12" fill="rgb(255,0,0)"/>
<circle cx="79.48" cy="255.13" r="1.12" fill="rgb(255,0,0)"/>
<circle cx="83.26" cy="253.27" r="1.12" fill="rgb(255,0,0)"/>
<circle cx="87.04" cy="251.42" r="1.12" fill="rgb(255,0,0)"/>
<circle cx="90.81" cy="249.56" r="1.12" fill="rgb(255,0,0)"/>
<circle cx="94.59" cy="247.70" r="1.12" fill="rgb(255,0,0)"/>
<circle cx="98.37" cy="245.85" r="1.12" fill="rgb(255,0,0)"/>
<circle cx="102.15" cy="243.99" r="1.12" fill="rgb(255,0,0)"/>
<circle cx="105.93" cy="242.13" r="1.12" fill="rgb(255,0,0)"/>
<circle cx="109.70" cy="240.28" r="1.12" fill="rgb(255,0,0)"/>
<circle cx="113.48" cy="238.42" r="1.12" fill="rgb(255,0,0)"/>
<circle cx="117.26" cy="236.56" r="1.12" fill="rgb(255,0,0)"/>
<circle cx="121.04" cy="232.85" r="1.12" fill="rgb(255,0,0)"/>
<circle cx="124.82" cy="230.99" r="1.12" fill="rgb(255,0,0)"/>
<circle cx="128.59" cy="229.13" r="1.12" fill="rgb(255,0,0)"/>
<circle cx="151.26" cy="212.42" r="1.12" fill="rgb(255,0,0)"/>
<circle cx="166.37" cy="201.28" r="1.12" fill="rgb(255,0,0)"/>
</g>
<path d="M130.60,213.50 L132.19,217.82 L136.78,217.99 L133.17,220.83 L134.42,225.26 L130.60,222.70 L126.78,225.26 L128.03,220.83 L124.42,217.99 L129.01,217.82 Z" fill="#000"/>
<path d="M227.00,128.70 L228.59,133.02 L233.18,133.19 L229.57,136.03 L230.82,140.46 L227.00,137.90 L223.18,140.46 L224.43,136.03 L220.82,133.19 L225.41,133.02 Z" fill="#000"/>
<rect x="121.3" y="251.3" width="18.7" height="11.2" fill="#999"/>
<circle cx="124.2" cy="279.1" r="1.15" fill="#000"/>
<circle cx="127.0" cy="281.2" r="0.8" fill="#000"/>
<circle cx="130.6" cy="279.1" r="1.15" fill="#000"/>
<circle cx="130.6" cy="274.4" r="1.15" fill="#000"/>
<circle cx="134.6" cy="274.1" r="0.8" fill="#000"/>
<circle cx="138.2" cy="279.1" r="1.15" fill="#000"/>
<text x="146.4" y="263.0" font-family="Liberation Sans, sans-serif" style="will-change:transform" font-size="16.5" fill="#000" text-anchor="start" >FOPT</text>
<text x="146.8" y="282.0" font-family="Liberation Sans, sans-serif" style="will-change:transform" font-size="16.8" fill="#000" text-anchor="start" >LISA reach</text>
<text x="37.2" y="26.9" font-family="Liberation Sans, sans-serif" style="will-change:transform" font-size="16.5" fill="#000" text-anchor="end" >3</text>
<text x="37.2" y="119.8" font-family="Liberation Sans, sans-serif" style="will-change:transform" font-size="16.5" fill="#000" text-anchor="end" >2</text>
<text x="36.6" y="212.7" font-family="Liberation Sans, sans-serif" style="will-change:transform" font-size="16.5" fill="#000" text-anchor="end" >1</text>
<text x="37.2" y="305.3" font-family="Liberation Sans, sans-serif" style="will-change:transform" font-size="16.5" fill="#000" text-anchor="end" >0</text>
<text x="40.0" y="316.8" font-family="Liberation Sans, sans-serif" style="will-change:transform" font-size="16.5" fill="#000" text-anchor="middle" >100</text>
<text x="132.7" y="316.8" font-family="Liberation Sans, sans-serif" style="will-change:transform" font-size="16.5" fill="#000" text-anchor="middle" >200</text>
<text x="225.7" y="316.8" font-family="Liberation Sans, sans-serif" style="will-change:transform" font-size="16.5" fill="#000" text-anchor="middle" >300</text>
<text x="318.6" y="316.8" font-family="Liberation Sans, sans-serif" style="will-change:transform" font-size="16.5" fill="#000" text-anchor="middle" >400</text>
<text x="136.3" y="343.0" font-family="Liberation Sans, sans-serif" style="will-change:transform" font-size="20.5" fill="#000" font-style="italic">m</text>
<text x="153.0" y="347.2" font-family="Liberation Sans, sans-serif" style="will-change:transform" font-size="16" fill="#000" font-style="italic">S</text>
<text x="169.4" y="343.0" font-family="Liberation Sans, sans-serif" style="will-change:transform" font-size="20.5" fill="#000">[GeV]</text>
<g transform="translate(18.9,176.2) rotate(-90)"><text x="0" y="0" font-family="Liberation Sans, sans-serif" style="will-change:transform" font-size="20" fill="#000">λ<tspan font-size="15" dy="2.6" dx="0.8">HS</tspan></text></g>
<text x="272.0" y="189.3" font-family="Liberation Sans, sans-serif" style="will-change:transform" font-size="16.7" fill="rgb(255,0,0)" text-anchor="middle"><tspan font-style="italic">λ</tspan><tspan font-style="italic" font-size="12" dy="3.6">S</tspan><tspan dy="-3.6"> = 0.5</tspan></text>
<text x="271.3" y="212.2" font-family="Liberation Sans, sans-serif" style="will-change:transform" font-size="16.7" fill="rgb(0,170,0)" text-anchor="middle"><tspan font-style="italic">λ</tspan><tspan font-style="italic" font-size="12" dy="3.6">S</tspan><tspan dy="-3.6"> = 1</tspan></text>
<text x="271.7" y="235.5" font-family="Liberation Sans, sans-serif" style="will-change:transform" font-size="16.7" fill="rgb(0,0,255)" text-anchor="middle"><tspan font-style="italic">λ</tspan><tspan font-style="italic" font-size="12" dy="3.6">S</tspan><tspan dy="-3.6"> = 2</tspan></text>
<text x="271.7" y="258.7" font-family="Liberation Sans, sans-serif" style="will-change:transform" font-size="16.7" fill="rgb(255,0,255)" text-anchor="middle"><tspan font-style="italic">λ</tspan><tspan font-style="italic" font-size="12" dy="3.6">S</tspan><tspan dy="-3.6"> = 4</tspan></text>
<text x="271.7" y="282.2" font-family="Liberation Sans, sans-serif" style="will-change:transform" font-size="16.7" fill="rgb(153,102,51)" text-anchor="middle"><tspan font-style="italic">λ</tspan><tspan font-style="italic" font-size="12" dy="3.6">S</tspan><tspan dy="-3.6"> = 8</tspan></text>
<text x="81.7" y="72.6" font-family="Liberation Sans, sans-serif" style="will-change:transform" font-size="16.6" fill="rgb(76,114,176)"><tspan font-style="italic">λ</tspan><tspan font-style="italic" font-size="12" dy="3.6">S</tspan><tspan dy="-3.6"> &gt;</tspan><tspan dx="0.9"> 4</tspan><tspan font-style="italic">π</tspan></text>
</svg>
</body></html>
